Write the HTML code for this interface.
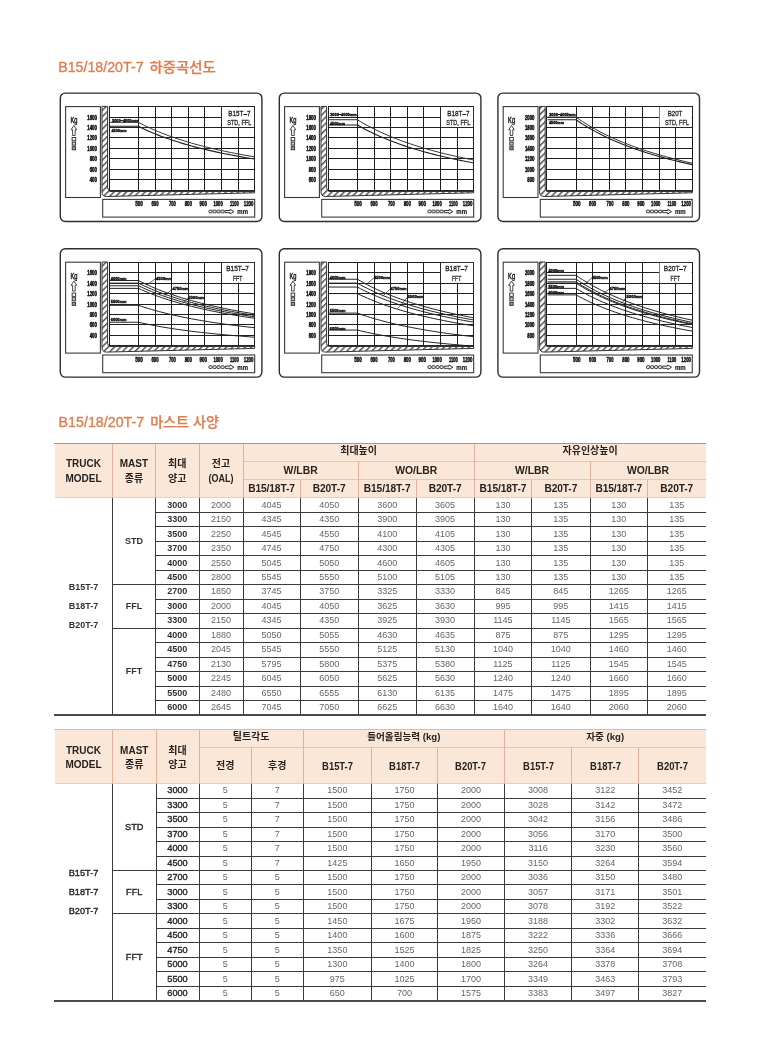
<!DOCTYPE html><html lang="ko"><head><meta charset="utf-8"><title>B15/18/20T-7</title><style>
*{margin:0;padding:0;box-sizing:border-box}
html,body{width:760px;height:1049px;background:#fff;overflow:hidden}
body{position:relative;font-family:"Liberation Sans","Noto Sans CJK KR",sans-serif}
.r{position:absolute}
.c{position:absolute;display:flex;align-items:center;justify-content:center;text-align:center;white-space:nowrap}
.h2{font-weight:bold;font-size:10px;line-height:14.8px;color:#262220}
.h1{font-weight:bold;font-size:10.4px;line-height:12px;color:#262220}
.hs{font-size:10.2px;letter-spacing:-0.1px}
.h1b{font-size:10.7px}
.sq{display:inline-block;transform:scaleX(0.88)}
.sq2{display:inline-block;transform:scaleX(0.9)}
.hk{font-weight:bold;font-size:10px;line-height:12px;color:#262220}
.hkb{font-size:9.6px}
.bb{font-weight:bold;font-size:9px;line-height:11px;color:#333}
.bn{font-size:9px;line-height:11px;color:#666}
.bm{font-weight:bold;font-size:9px;line-height:11px;color:#333}
.bb2,.bm2{font-size:9.2px;line-height:11px;color:#2a2a2a;-webkit-text-stroke:0.4px #2a2a2a}
svg{position:absolute;left:0;top:0}
svg text{font-family:"Liberation Sans","Noto Sans CJK KR",sans-serif}
</style></head><body><svg width="760" height="440" viewBox="0 0 760 440"><defs><pattern id="hatch" width="4.4" height="4.4" patternUnits="userSpaceOnUse" patternTransform="rotate(45)"><rect width="4.4" height="4.4" fill="#fff"/><rect width="1.5" height="4.4" fill="#555"/></pattern></defs><text x="58.2" y="72" font-size="15.4" fill="#dc7e50" stroke="#dc7e50" stroke-width="0.35" textLength="85.4" lengthAdjust="spacingAndGlyphs">B15/18/20T-7</text><text x="149.6" y="72" font-size="13.5" font-weight="500" fill="#dc7e50" stroke="#dc7e50" stroke-width="0.25" textLength="66.2" lengthAdjust="spacingAndGlyphs" style="font-family:'Noto Sans CJK KR',sans-serif">하중곡선도</text><text x="58.6" y="426.8" font-size="15.4" fill="#dc7e50" stroke="#dc7e50" stroke-width="0.35" textLength="85.6" lengthAdjust="spacingAndGlyphs">B15/18/20T-7</text><text x="150.2" y="426.8" font-size="13.5" font-weight="500" fill="#dc7e50" stroke="#dc7e50" stroke-width="0.25" textLength="68.8" lengthAdjust="spacingAndGlyphs" style="font-family:'Noto Sans CJK KR',sans-serif">마스트 사양</text><rect x="60.3" y="93.1" width="201.6" height="128.4" rx="5" ry="5" fill="#fff" stroke="#2e2e2e" stroke-width="1.4"/><rect x="65.6" y="106.6" width="34.8" height="90.9" fill="#fff" stroke="#3a3a3a" stroke-width="1.1"/><path d="M102,106.4 L102,191.9 Q102,196.5 106.6,196.5 L254.67,192.8 L254.67,190.1 L109.8,190.1 Q107.6,190.1 107.6,187.9 L107.6,106.4 Z" fill="url(#hatch)" stroke="#333" stroke-width="1"/><rect x="109.2" y="106.7" width="145.47" height="83.4" fill="#fff"/><line x1="138.5" y1="106.5" x2="138.5" y2="190.5" stroke="#1e1e1e" stroke-width="1"/><line x1="155.5" y1="106.5" x2="155.5" y2="190.5" stroke="#1e1e1e" stroke-width="1"/><line x1="171.5" y1="106.5" x2="171.5" y2="190.5" stroke="#1e1e1e" stroke-width="1"/><line x1="188.5" y1="106.5" x2="188.5" y2="190.5" stroke="#1e1e1e" stroke-width="1"/><line x1="204.5" y1="106.5" x2="204.5" y2="190.5" stroke="#1e1e1e" stroke-width="1"/><line x1="221.5" y1="106.5" x2="221.5" y2="190.5" stroke="#1e1e1e" stroke-width="1"/><line x1="238.5" y1="106.5" x2="238.5" y2="190.5" stroke="#1e1e1e" stroke-width="1"/><line x1="109.5" y1="117.5" x2="254.5" y2="117.5" stroke="#1e1e1e" stroke-width="1"/><line x1="109.5" y1="127.5" x2="254.5" y2="127.5" stroke="#1e1e1e" stroke-width="1"/><line x1="109.5" y1="137.5" x2="254.5" y2="137.5" stroke="#1e1e1e" stroke-width="1"/><line x1="109.5" y1="148.5" x2="254.5" y2="148.5" stroke="#1e1e1e" stroke-width="1"/><line x1="109.5" y1="158.5" x2="254.5" y2="158.5" stroke="#1e1e1e" stroke-width="1"/><line x1="109.5" y1="169.5" x2="254.5" y2="169.5" stroke="#1e1e1e" stroke-width="1"/><line x1="109.5" y1="179.5" x2="254.5" y2="179.5" stroke="#1e1e1e" stroke-width="1"/><rect x="109.5" y="106.5" width="145" height="84" fill="none" stroke="#1e1e1e" stroke-width="1"/><line x1="109.5" y1="191.3" x2="254.5" y2="191.3" stroke="#333" stroke-width="1.6"/><polyline points="110,122.34 138.4,122.34 141.72,124.07 145.04,125.72 148.37,127.3 151.69,128.82 155.01,130.28 158.33,131.67 161.65,133.02 164.98,134.31 168.3,135.55 171.62,136.75 174.94,137.9 178.26,139.02 181.59,140.09 184.91,141.13 188.23,142.13 191.55,143.1 194.87,144.04 198.2,144.95 201.52,145.82 204.84,146.68 208.16,147.5 211.48,148.3 214.81,149.08 218.13,149.83 221.45,150.56 224.77,151.28 228.09,151.97 231.42,152.64 234.74,153.29 238.06,153.93 241.38,154.55 244.7,155.15 248.03,155.74 251.35,156.31 254.67,156.87" fill="none" stroke="#333" stroke-width="1" stroke-linejoin="round"/><polyline points="110,126.25 138.4,126.25 141.72,127.89 145.04,129.46 148.37,130.96 151.69,132.4 155.01,133.79 158.33,135.12 161.65,136.39 164.98,137.62 168.3,138.8 171.62,139.94 174.94,141.04 178.26,142.09 181.59,143.11 184.91,144.1 188.23,145.05 191.55,145.97 194.87,146.86 198.2,147.72 201.52,148.56 204.84,149.37 208.16,150.15 211.48,150.91 214.81,151.65 218.13,152.37 221.45,153.06 224.77,153.74 228.09,154.39 231.42,155.03 234.74,155.65 238.06,156.26 241.38,156.85 244.7,157.42 248.03,157.98 251.35,158.52 254.67,159.05" fill="none" stroke="#222" stroke-width="1.1" stroke-linejoin="round"/><text x="112" y="121.5" font-size="4.3" font-weight="bold" text-anchor="start" fill="#111" textLength="26.4" lengthAdjust="spacingAndGlyphs" stroke="#111" stroke-width="0.4">3000~4000mm</text><text x="111.5" y="132.3" font-size="4.3" font-weight="bold" text-anchor="start" fill="#111" textLength="15" lengthAdjust="spacingAndGlyphs" stroke="#111" stroke-width="0.4">4500mm</text><rect x="221.95" y="107.3" width="32.12" height="19.75" fill="#fff"/><text x="239.4" y="115.7" font-size="8" font-weight="normal" text-anchor="middle" fill="#1a1a1a" textLength="22.2" lengthAdjust="spacingAndGlyphs" stroke="#1a1a1a" stroke-width="0.3">B15T–7</text><text x="239.3" y="125" font-size="8" font-weight="normal" text-anchor="middle" fill="#1a1a1a" textLength="24" lengthAdjust="spacingAndGlyphs" stroke="#1a1a1a" stroke-width="0.3">STD, FFL</text><text x="96.9" y="119.62" font-size="7.3" font-weight="bold" text-anchor="end" fill="#111" textLength="9.6" lengthAdjust="spacingAndGlyphs" stroke="#111" stroke-width="0.55">1600</text><text x="96.9" y="130.05" font-size="7.3" font-weight="bold" text-anchor="end" fill="#111" textLength="9.6" lengthAdjust="spacingAndGlyphs" stroke="#111" stroke-width="0.55">1400</text><text x="96.9" y="140.47" font-size="7.3" font-weight="bold" text-anchor="end" fill="#111" textLength="9.6" lengthAdjust="spacingAndGlyphs" stroke="#111" stroke-width="0.55">1200</text><text x="96.9" y="150.9" font-size="7.3" font-weight="bold" text-anchor="end" fill="#111" textLength="9.6" lengthAdjust="spacingAndGlyphs" stroke="#111" stroke-width="0.55">1000</text><text x="96.9" y="161.32" font-size="7.3" font-weight="bold" text-anchor="end" fill="#111" textLength="7.2" lengthAdjust="spacingAndGlyphs" stroke="#111" stroke-width="0.55">800</text><text x="96.9" y="171.75" font-size="7.3" font-weight="bold" text-anchor="end" fill="#111" textLength="7.2" lengthAdjust="spacingAndGlyphs" stroke="#111" stroke-width="0.55">600</text><text x="96.9" y="182.18" font-size="7.3" font-weight="bold" text-anchor="end" fill="#111" textLength="7.2" lengthAdjust="spacingAndGlyphs" stroke="#111" stroke-width="0.55">400</text><text x="74" y="123.4" font-size="8.4" font-weight="normal" text-anchor="middle" fill="#222" textLength="7" lengthAdjust="spacingAndGlyphs" stroke="#222" stroke-width="0.5">Kg</text><path d="M73.9,125.5 L76.7,129.7 L75.2,129.7 L75.2,135.5 L72.6,135.5 L72.6,129.7 L71.1,129.7 Z" fill="#fff" stroke="#333" stroke-width="0.9"/><rect x="72.1" y="137.5" width="3.6" height="3.24" fill="#fff" stroke="#333" stroke-width="0.95"/><rect x="72.2" y="142.1" width="3.4" height="3.06" fill="#ccc" stroke="#333" stroke-width="0.95"/><rect x="72.2" y="146.7" width="3.4" height="3.06" fill="#999" stroke="#333" stroke-width="0.95"/><rect x="102.7" y="199.4" width="151.97" height="17.7" fill="#fff" stroke="#3a3a3a" stroke-width="1.1"/><text x="139.1" y="206.3" font-size="6.9" font-weight="bold" text-anchor="middle" fill="#111" textLength="7.6" lengthAdjust="spacingAndGlyphs" stroke="#111" stroke-width="0.5">500</text><text x="155" y="206.3" font-size="6.9" font-weight="bold" text-anchor="middle" fill="#111" textLength="7.1" lengthAdjust="spacingAndGlyphs" stroke="#111" stroke-width="0.5">600</text><text x="172.4" y="206.3" font-size="6.9" font-weight="bold" text-anchor="middle" fill="#111" textLength="6.8" lengthAdjust="spacingAndGlyphs" stroke="#111" stroke-width="0.5">700</text><text x="188.3" y="206.3" font-size="6.9" font-weight="bold" text-anchor="middle" fill="#111" textLength="7.2" lengthAdjust="spacingAndGlyphs" stroke="#111" stroke-width="0.5">800</text><text x="203.3" y="206.3" font-size="6.9" font-weight="bold" text-anchor="middle" fill="#111" textLength="7.4" lengthAdjust="spacingAndGlyphs" stroke="#111" stroke-width="0.5">900</text><text x="218.1" y="206.3" font-size="6.9" font-weight="bold" text-anchor="middle" fill="#111" textLength="9.2" lengthAdjust="spacingAndGlyphs" stroke="#111" stroke-width="0.5">1000</text><text x="234.3" y="206.3" font-size="6.9" font-weight="bold" text-anchor="middle" fill="#111" textLength="8.7" lengthAdjust="spacingAndGlyphs" stroke="#111" stroke-width="0.5">1100</text><text x="248.6" y="206.3" font-size="6.9" font-weight="bold" text-anchor="middle" fill="#111" textLength="9.7" lengthAdjust="spacingAndGlyphs" stroke="#111" stroke-width="0.5">1200</text><rect x="209" y="210.2" width="3.1" height="2.6" rx="0.5" fill="#fff" stroke="#333" stroke-width="1.0"/><rect x="213" y="210.2" width="3.1" height="2.6" rx="0.5" fill="#fff" stroke="#333" stroke-width="1.0"/><rect x="217" y="210.2" width="3.1" height="2.6" rx="0.5" fill="#fff" stroke="#333" stroke-width="1.0"/><rect x="221" y="210.2" width="3.1" height="2.6" rx="0.5" fill="#fff" stroke="#333" stroke-width="1.0"/><path d="M225.1,210.5 L230.1,210.5 L230.1,209.3 L233.9,211.6 L230.1,213.9 L230.1,212.7 L225.1,212.7 Z" fill="#fff" stroke="#333" stroke-width="1.0"/><text x="237.3" y="213.9" font-size="7" font-weight="bold" text-anchor="start" fill="#222" textLength="10.7" lengthAdjust="spacingAndGlyphs" stroke="#222" stroke-width="0.2">mm</text><rect x="279.3" y="93.1" width="201.6" height="128.4" rx="5" ry="5" fill="#fff" stroke="#2e2e2e" stroke-width="1.4"/><rect x="284.6" y="106.6" width="34.8" height="90.9" fill="#fff" stroke="#3a3a3a" stroke-width="1.1"/><path d="M321,106.4 L321,191.9 Q321,196.5 325.6,196.5 L473.67,192.8 L473.67,190.1 L328.8,190.1 Q326.6,190.1 326.6,187.9 L326.6,106.4 Z" fill="url(#hatch)" stroke="#333" stroke-width="1"/><rect x="328.2" y="106.7" width="145.47" height="83.4" fill="#fff"/><line x1="357.5" y1="106.5" x2="357.5" y2="190.5" stroke="#1e1e1e" stroke-width="1"/><line x1="374.5" y1="106.5" x2="374.5" y2="190.5" stroke="#1e1e1e" stroke-width="1"/><line x1="390.5" y1="106.5" x2="390.5" y2="190.5" stroke="#1e1e1e" stroke-width="1"/><line x1="407.5" y1="106.5" x2="407.5" y2="190.5" stroke="#1e1e1e" stroke-width="1"/><line x1="423.5" y1="106.5" x2="423.5" y2="190.5" stroke="#1e1e1e" stroke-width="1"/><line x1="440.5" y1="106.5" x2="440.5" y2="190.5" stroke="#1e1e1e" stroke-width="1"/><line x1="457.5" y1="106.5" x2="457.5" y2="190.5" stroke="#1e1e1e" stroke-width="1"/><line x1="328.5" y1="117.5" x2="473.5" y2="117.5" stroke="#1e1e1e" stroke-width="1"/><line x1="328.5" y1="127.5" x2="473.5" y2="127.5" stroke="#1e1e1e" stroke-width="1"/><line x1="328.5" y1="137.5" x2="473.5" y2="137.5" stroke="#1e1e1e" stroke-width="1"/><line x1="328.5" y1="148.5" x2="473.5" y2="148.5" stroke="#1e1e1e" stroke-width="1"/><line x1="328.5" y1="158.5" x2="473.5" y2="158.5" stroke="#1e1e1e" stroke-width="1"/><line x1="328.5" y1="169.5" x2="473.5" y2="169.5" stroke="#1e1e1e" stroke-width="1"/><line x1="328.5" y1="179.5" x2="473.5" y2="179.5" stroke="#1e1e1e" stroke-width="1"/><rect x="328.5" y="106.5" width="145" height="84" fill="none" stroke="#1e1e1e" stroke-width="1"/><line x1="328.5" y1="191.3" x2="473.5" y2="191.3" stroke="#333" stroke-width="1.6"/><polyline points="329,119.73 357.4,119.73 360.72,121.75 364.04,123.68 367.37,125.52 370.69,127.29 374.01,128.99 377.33,130.62 380.65,132.19 383.98,133.7 387.3,135.15 390.62,136.55 393.94,137.89 397.26,139.19 400.59,140.44 403.91,141.66 407.23,142.82 410.55,143.96 413.87,145.05 417.2,146.11 420.52,147.13 423.84,148.13 427.16,149.09 430.48,150.02 433.81,150.93 437.13,151.81 440.45,152.66 443.77,153.49 447.09,154.3 450.42,155.08 453.74,155.85 457.06,156.59 460.38,157.31 463.7,158.01 467.03,158.7 470.35,159.37 473.67,160.02" fill="none" stroke="#333" stroke-width="1" stroke-linejoin="round"/><polyline points="329,124.94 357.4,124.94 360.72,126.84 364.04,128.66 367.37,130.4 370.69,132.07 374.01,133.68 377.33,135.21 380.65,136.69 383.98,138.11 387.3,139.48 390.62,140.8 393.94,142.07 397.26,143.29 400.59,144.47 403.91,145.61 407.23,146.72 410.55,147.78 413.87,148.81 417.2,149.81 420.52,150.78 423.84,151.72 427.16,152.62 430.48,153.5 433.81,154.36 437.13,155.19 440.45,155.99 443.77,156.78 447.09,157.54 450.42,158.27 453.74,158.99 457.06,159.69 460.38,160.37 463.7,161.04 467.03,161.68 470.35,162.31 473.67,162.93" fill="none" stroke="#222" stroke-width="1.1" stroke-linejoin="round"/><text x="330.2" y="116" font-size="4.3" font-weight="bold" text-anchor="start" fill="#111" textLength="26.4" lengthAdjust="spacingAndGlyphs" stroke="#111" stroke-width="0.4">3000~4000mm</text><text x="330" y="124.7" font-size="4.3" font-weight="bold" text-anchor="start" fill="#111" textLength="15" lengthAdjust="spacingAndGlyphs" stroke="#111" stroke-width="0.4">4500mm</text><rect x="440.95" y="107.3" width="32.12" height="19.75" fill="#fff"/><text x="458.4" y="115.7" font-size="8" font-weight="normal" text-anchor="middle" fill="#1a1a1a" textLength="22.2" lengthAdjust="spacingAndGlyphs" stroke="#1a1a1a" stroke-width="0.3">B18T–7</text><text x="458.3" y="125" font-size="8" font-weight="normal" text-anchor="middle" fill="#1a1a1a" textLength="24" lengthAdjust="spacingAndGlyphs" stroke="#1a1a1a" stroke-width="0.3">STD, FFL</text><text x="315.9" y="119.62" font-size="7.3" font-weight="bold" text-anchor="end" fill="#111" textLength="9.6" lengthAdjust="spacingAndGlyphs" stroke="#111" stroke-width="0.55">1800</text><text x="315.9" y="130.05" font-size="7.3" font-weight="bold" text-anchor="end" fill="#111" textLength="9.6" lengthAdjust="spacingAndGlyphs" stroke="#111" stroke-width="0.55">1600</text><text x="315.9" y="140.47" font-size="7.3" font-weight="bold" text-anchor="end" fill="#111" textLength="9.6" lengthAdjust="spacingAndGlyphs" stroke="#111" stroke-width="0.55">1400</text><text x="315.9" y="150.9" font-size="7.3" font-weight="bold" text-anchor="end" fill="#111" textLength="9.6" lengthAdjust="spacingAndGlyphs" stroke="#111" stroke-width="0.55">1200</text><text x="315.9" y="161.32" font-size="7.3" font-weight="bold" text-anchor="end" fill="#111" textLength="9.6" lengthAdjust="spacingAndGlyphs" stroke="#111" stroke-width="0.55">1000</text><text x="315.9" y="171.75" font-size="7.3" font-weight="bold" text-anchor="end" fill="#111" textLength="7.2" lengthAdjust="spacingAndGlyphs" stroke="#111" stroke-width="0.55">800</text><text x="315.9" y="182.18" font-size="7.3" font-weight="bold" text-anchor="end" fill="#111" textLength="7.2" lengthAdjust="spacingAndGlyphs" stroke="#111" stroke-width="0.55">600</text><text x="293" y="123.4" font-size="8.4" font-weight="normal" text-anchor="middle" fill="#222" textLength="7" lengthAdjust="spacingAndGlyphs" stroke="#222" stroke-width="0.5">Kg</text><path d="M292.9,125.5 L295.7,129.7 L294.2,129.7 L294.2,135.5 L291.6,135.5 L291.6,129.7 L290.1,129.7 Z" fill="#fff" stroke="#333" stroke-width="0.9"/><rect x="291.1" y="137.5" width="3.6" height="3.24" fill="#fff" stroke="#333" stroke-width="0.95"/><rect x="291.2" y="142.1" width="3.4" height="3.06" fill="#ccc" stroke="#333" stroke-width="0.95"/><rect x="291.2" y="146.7" width="3.4" height="3.06" fill="#999" stroke="#333" stroke-width="0.95"/><rect x="321.7" y="199.4" width="151.97" height="17.7" fill="#fff" stroke="#3a3a3a" stroke-width="1.1"/><text x="358.1" y="206.3" font-size="6.9" font-weight="bold" text-anchor="middle" fill="#111" textLength="7.6" lengthAdjust="spacingAndGlyphs" stroke="#111" stroke-width="0.5">500</text><text x="374" y="206.3" font-size="6.9" font-weight="bold" text-anchor="middle" fill="#111" textLength="7.1" lengthAdjust="spacingAndGlyphs" stroke="#111" stroke-width="0.5">600</text><text x="391.4" y="206.3" font-size="6.9" font-weight="bold" text-anchor="middle" fill="#111" textLength="6.8" lengthAdjust="spacingAndGlyphs" stroke="#111" stroke-width="0.5">700</text><text x="407.3" y="206.3" font-size="6.9" font-weight="bold" text-anchor="middle" fill="#111" textLength="7.2" lengthAdjust="spacingAndGlyphs" stroke="#111" stroke-width="0.5">800</text><text x="422.3" y="206.3" font-size="6.9" font-weight="bold" text-anchor="middle" fill="#111" textLength="7.4" lengthAdjust="spacingAndGlyphs" stroke="#111" stroke-width="0.5">900</text><text x="437.1" y="206.3" font-size="6.9" font-weight="bold" text-anchor="middle" fill="#111" textLength="9.2" lengthAdjust="spacingAndGlyphs" stroke="#111" stroke-width="0.5">1000</text><text x="453.3" y="206.3" font-size="6.9" font-weight="bold" text-anchor="middle" fill="#111" textLength="8.7" lengthAdjust="spacingAndGlyphs" stroke="#111" stroke-width="0.5">1100</text><text x="467.6" y="206.3" font-size="6.9" font-weight="bold" text-anchor="middle" fill="#111" textLength="9.7" lengthAdjust="spacingAndGlyphs" stroke="#111" stroke-width="0.5">1200</text><rect x="428" y="210.2" width="3.1" height="2.6" rx="0.5" fill="#fff" stroke="#333" stroke-width="1.0"/><rect x="432" y="210.2" width="3.1" height="2.6" rx="0.5" fill="#fff" stroke="#333" stroke-width="1.0"/><rect x="436" y="210.2" width="3.1" height="2.6" rx="0.5" fill="#fff" stroke="#333" stroke-width="1.0"/><rect x="440" y="210.2" width="3.1" height="2.6" rx="0.5" fill="#fff" stroke="#333" stroke-width="1.0"/><path d="M444.1,210.5 L449.1,210.5 L449.1,209.3 L452.9,211.6 L449.1,213.9 L449.1,212.7 L444.1,212.7 Z" fill="#fff" stroke="#333" stroke-width="1.0"/><text x="456.3" y="213.9" font-size="7" font-weight="bold" text-anchor="start" fill="#222" textLength="10.7" lengthAdjust="spacingAndGlyphs" stroke="#222" stroke-width="0.2">mm</text><rect x="497.9" y="93.1" width="201.6" height="128.4" rx="5" ry="5" fill="#fff" stroke="#2e2e2e" stroke-width="1.4"/><rect x="503.2" y="106.6" width="34.8" height="90.9" fill="#fff" stroke="#3a3a3a" stroke-width="1.1"/><path d="M539.6,106.4 L539.6,191.9 Q539.6,196.5 544.2,196.5 L692.27,192.8 L692.27,190.1 L547.4,190.1 Q545.2,190.1 545.2,187.9 L545.2,106.4 Z" fill="url(#hatch)" stroke="#333" stroke-width="1"/><rect x="546.8" y="106.7" width="145.47" height="83.4" fill="#fff"/><line x1="576.5" y1="106.5" x2="576.5" y2="190.5" stroke="#1e1e1e" stroke-width="1"/><line x1="592.5" y1="106.5" x2="592.5" y2="190.5" stroke="#1e1e1e" stroke-width="1"/><line x1="609.5" y1="106.5" x2="609.5" y2="190.5" stroke="#1e1e1e" stroke-width="1"/><line x1="625.5" y1="106.5" x2="625.5" y2="190.5" stroke="#1e1e1e" stroke-width="1"/><line x1="642.5" y1="106.5" x2="642.5" y2="190.5" stroke="#1e1e1e" stroke-width="1"/><line x1="659.5" y1="106.5" x2="659.5" y2="190.5" stroke="#1e1e1e" stroke-width="1"/><line x1="675.5" y1="106.5" x2="675.5" y2="190.5" stroke="#1e1e1e" stroke-width="1"/><line x1="546.5" y1="117.5" x2="692.5" y2="117.5" stroke="#1e1e1e" stroke-width="1"/><line x1="546.5" y1="127.5" x2="692.5" y2="127.5" stroke="#1e1e1e" stroke-width="1"/><line x1="546.5" y1="137.5" x2="692.5" y2="137.5" stroke="#1e1e1e" stroke-width="1"/><line x1="546.5" y1="148.5" x2="692.5" y2="148.5" stroke="#1e1e1e" stroke-width="1"/><line x1="546.5" y1="158.5" x2="692.5" y2="158.5" stroke="#1e1e1e" stroke-width="1"/><line x1="546.5" y1="169.5" x2="692.5" y2="169.5" stroke="#1e1e1e" stroke-width="1"/><line x1="546.5" y1="179.5" x2="692.5" y2="179.5" stroke="#1e1e1e" stroke-width="1"/><rect x="546.5" y="106.5" width="146" height="84" fill="none" stroke="#1e1e1e" stroke-width="1"/><line x1="546.5" y1="191.3" x2="692.5" y2="191.3" stroke="#333" stroke-width="1.6"/><polyline points="547.6,117.12 576,117.12 579.32,119.43 582.64,121.63 585.97,123.74 589.29,125.77 592.61,127.71 595.93,129.57 599.25,131.36 602.58,133.09 605.9,134.74 609.22,136.34 612.54,137.88 615.86,139.37 619.19,140.8 622.51,142.18 625.83,143.52 629.15,144.81 632.47,146.06 635.8,147.27 639.12,148.44 642.44,149.58 645.76,150.68 649.08,151.74 652.41,152.78 655.73,153.78 659.05,154.76 662.37,155.71 665.69,156.63 669.02,157.53 672.34,158.4 675.66,159.25 678.98,160.07 682.3,160.88 685.63,161.66 688.95,162.42 692.27,163.17" fill="none" stroke="#333" stroke-width="1" stroke-linejoin="round"/><polyline points="547.6,119.73 576,119.73 579.32,121.98 582.64,124.13 585.97,126.18 589.29,128.16 592.61,130.05 595.93,131.87 599.25,133.61 602.58,135.29 605.9,136.91 609.22,138.47 612.54,139.97 615.86,141.42 619.19,142.81 622.51,144.16 625.83,145.46 629.15,146.72 632.47,147.94 635.8,149.12 639.12,150.26 642.44,151.37 645.76,152.44 649.08,153.48 652.41,154.49 655.73,155.47 659.05,156.43 662.37,157.35 665.69,158.25 669.02,159.12 672.34,159.97 675.66,160.8 678.98,161.6 682.3,162.39 685.63,163.15 688.95,163.9 692.27,164.62" fill="none" stroke="#222" stroke-width="1.1" stroke-linejoin="round"/><text x="549.2" y="115.5" font-size="4.3" font-weight="bold" text-anchor="start" fill="#111" textLength="26.4" lengthAdjust="spacingAndGlyphs" stroke="#111" stroke-width="0.4">3000~4000mm</text><text x="549" y="124.4" font-size="4.3" font-weight="bold" text-anchor="start" fill="#111" textLength="15" lengthAdjust="spacingAndGlyphs" stroke="#111" stroke-width="0.4">4500mm</text><rect x="659.55" y="107.3" width="32.12" height="19.75" fill="#fff"/><text x="675" y="115.7" font-size="8" font-weight="normal" text-anchor="middle" fill="#1a1a1a" textLength="14.5" lengthAdjust="spacingAndGlyphs" stroke="#1a1a1a" stroke-width="0.3">B20T</text><text x="676.9" y="125" font-size="8" font-weight="normal" text-anchor="middle" fill="#1a1a1a" textLength="24" lengthAdjust="spacingAndGlyphs" stroke="#1a1a1a" stroke-width="0.3">STD, FFL</text><text x="534.5" y="119.62" font-size="7.3" font-weight="bold" text-anchor="end" fill="#111" textLength="9.6" lengthAdjust="spacingAndGlyphs" stroke="#111" stroke-width="0.55">2000</text><text x="534.5" y="130.05" font-size="7.3" font-weight="bold" text-anchor="end" fill="#111" textLength="9.6" lengthAdjust="spacingAndGlyphs" stroke="#111" stroke-width="0.55">1800</text><text x="534.5" y="140.47" font-size="7.3" font-weight="bold" text-anchor="end" fill="#111" textLength="9.6" lengthAdjust="spacingAndGlyphs" stroke="#111" stroke-width="0.55">1600</text><text x="534.5" y="150.9" font-size="7.3" font-weight="bold" text-anchor="end" fill="#111" textLength="9.6" lengthAdjust="spacingAndGlyphs" stroke="#111" stroke-width="0.55">1400</text><text x="534.5" y="161.32" font-size="7.3" font-weight="bold" text-anchor="end" fill="#111" textLength="9.6" lengthAdjust="spacingAndGlyphs" stroke="#111" stroke-width="0.55">1200</text><text x="534.5" y="171.75" font-size="7.3" font-weight="bold" text-anchor="end" fill="#111" textLength="9.6" lengthAdjust="spacingAndGlyphs" stroke="#111" stroke-width="0.55">1000</text><text x="534.5" y="182.18" font-size="7.3" font-weight="bold" text-anchor="end" fill="#111" textLength="7.2" lengthAdjust="spacingAndGlyphs" stroke="#111" stroke-width="0.55">800</text><text x="511.6" y="123.4" font-size="8.4" font-weight="normal" text-anchor="middle" fill="#222" textLength="7" lengthAdjust="spacingAndGlyphs" stroke="#222" stroke-width="0.5">Kg</text><path d="M511.5,125.5 L514.3,129.7 L512.8,129.7 L512.8,135.5 L510.2,135.5 L510.2,129.7 L508.7,129.7 Z" fill="#fff" stroke="#333" stroke-width="0.9"/><rect x="509.7" y="137.5" width="3.6" height="3.24" fill="#fff" stroke="#333" stroke-width="0.95"/><rect x="509.8" y="142.1" width="3.4" height="3.06" fill="#ccc" stroke="#333" stroke-width="0.95"/><rect x="509.8" y="146.7" width="3.4" height="3.06" fill="#999" stroke="#333" stroke-width="0.95"/><rect x="540.3" y="199.4" width="151.97" height="17.7" fill="#fff" stroke="#3a3a3a" stroke-width="1.1"/><text x="576.7" y="206.3" font-size="6.9" font-weight="bold" text-anchor="middle" fill="#111" textLength="7.6" lengthAdjust="spacingAndGlyphs" stroke="#111" stroke-width="0.5">500</text><text x="592.6" y="206.3" font-size="6.9" font-weight="bold" text-anchor="middle" fill="#111" textLength="7.1" lengthAdjust="spacingAndGlyphs" stroke="#111" stroke-width="0.5">600</text><text x="610" y="206.3" font-size="6.9" font-weight="bold" text-anchor="middle" fill="#111" textLength="6.8" lengthAdjust="spacingAndGlyphs" stroke="#111" stroke-width="0.5">700</text><text x="625.9" y="206.3" font-size="6.9" font-weight="bold" text-anchor="middle" fill="#111" textLength="7.2" lengthAdjust="spacingAndGlyphs" stroke="#111" stroke-width="0.5">800</text><text x="640.9" y="206.3" font-size="6.9" font-weight="bold" text-anchor="middle" fill="#111" textLength="7.4" lengthAdjust="spacingAndGlyphs" stroke="#111" stroke-width="0.5">900</text><text x="655.7" y="206.3" font-size="6.9" font-weight="bold" text-anchor="middle" fill="#111" textLength="9.2" lengthAdjust="spacingAndGlyphs" stroke="#111" stroke-width="0.5">1000</text><text x="671.9" y="206.3" font-size="6.9" font-weight="bold" text-anchor="middle" fill="#111" textLength="8.7" lengthAdjust="spacingAndGlyphs" stroke="#111" stroke-width="0.5">1100</text><text x="686.2" y="206.3" font-size="6.9" font-weight="bold" text-anchor="middle" fill="#111" textLength="9.7" lengthAdjust="spacingAndGlyphs" stroke="#111" stroke-width="0.5">1200</text><rect x="646.6" y="210.2" width="3.1" height="2.6" rx="0.5" fill="#fff" stroke="#333" stroke-width="1.0"/><rect x="650.6" y="210.2" width="3.1" height="2.6" rx="0.5" fill="#fff" stroke="#333" stroke-width="1.0"/><rect x="654.6" y="210.2" width="3.1" height="2.6" rx="0.5" fill="#fff" stroke="#333" stroke-width="1.0"/><rect x="658.6" y="210.2" width="3.1" height="2.6" rx="0.5" fill="#fff" stroke="#333" stroke-width="1.0"/><path d="M662.7,210.5 L667.7,210.5 L667.7,209.3 L671.5,211.6 L667.7,213.9 L667.7,212.7 L662.7,212.7 Z" fill="#fff" stroke="#333" stroke-width="1.0"/><text x="674.9" y="213.9" font-size="7" font-weight="bold" text-anchor="start" fill="#222" textLength="10.7" lengthAdjust="spacingAndGlyphs" stroke="#222" stroke-width="0.2">mm</text><rect x="60.3" y="248.7" width="201.6" height="128.4" rx="5" ry="5" fill="#fff" stroke="#2e2e2e" stroke-width="1.4"/><rect x="65.6" y="262.2" width="34.8" height="90.9" fill="#fff" stroke="#3a3a3a" stroke-width="1.1"/><path d="M102,262 L102,347.5 Q102,352.1 106.6,352.1 L254.67,348.4 L254.67,345.7 L109.8,345.7 Q107.6,345.7 107.6,343.5 L107.6,262 Z" fill="url(#hatch)" stroke="#333" stroke-width="1"/><rect x="109.2" y="262.3" width="145.47" height="83.4" fill="#fff"/><line x1="138.5" y1="262.5" x2="138.5" y2="345.5" stroke="#1e1e1e" stroke-width="1"/><line x1="155.5" y1="262.5" x2="155.5" y2="345.5" stroke="#1e1e1e" stroke-width="1"/><line x1="171.5" y1="262.5" x2="171.5" y2="345.5" stroke="#1e1e1e" stroke-width="1"/><line x1="188.5" y1="262.5" x2="188.5" y2="345.5" stroke="#1e1e1e" stroke-width="1"/><line x1="204.5" y1="262.5" x2="204.5" y2="345.5" stroke="#1e1e1e" stroke-width="1"/><line x1="221.5" y1="262.5" x2="221.5" y2="345.5" stroke="#1e1e1e" stroke-width="1"/><line x1="238.5" y1="262.5" x2="238.5" y2="345.5" stroke="#1e1e1e" stroke-width="1"/><line x1="109.5" y1="272.5" x2="254.5" y2="272.5" stroke="#1e1e1e" stroke-width="1"/><line x1="109.5" y1="283.5" x2="254.5" y2="283.5" stroke="#1e1e1e" stroke-width="1"/><line x1="109.5" y1="293.5" x2="254.5" y2="293.5" stroke="#1e1e1e" stroke-width="1"/><line x1="109.5" y1="304.5" x2="254.5" y2="304.5" stroke="#1e1e1e" stroke-width="1"/><line x1="109.5" y1="314.5" x2="254.5" y2="314.5" stroke="#1e1e1e" stroke-width="1"/><line x1="109.5" y1="324.5" x2="254.5" y2="324.5" stroke="#1e1e1e" stroke-width="1"/><line x1="109.5" y1="335.5" x2="254.5" y2="335.5" stroke="#1e1e1e" stroke-width="1"/><rect x="109.5" y="262.5" width="145" height="83" fill="none" stroke="#1e1e1e" stroke-width="1"/><line x1="109.5" y1="346.3" x2="254.5" y2="346.3" stroke="#333" stroke-width="1.6"/><polyline points="110,280.54 138.4,280.54 141.72,282.21 145.04,283.81 148.37,285.34 151.69,286.81 155.01,288.22 158.33,289.57 161.65,290.87 164.98,292.12 168.3,293.32 171.62,294.48 174.94,295.59 178.26,296.67 181.59,297.71 184.91,298.71 188.23,299.68 191.55,300.62 194.87,301.52 198.2,302.4 201.52,303.25 204.84,304.07 208.16,304.87 211.48,305.64 214.81,306.39 218.13,307.12 221.45,307.83 224.77,308.52 228.09,309.19 231.42,309.83 234.74,310.47 238.06,311.08 241.38,311.68 244.7,312.26 248.03,312.83 251.35,313.38 254.67,313.92" fill="none" stroke="#222" stroke-width="1" stroke-linejoin="round"/><polyline points="110,283.15 138.4,283.15 141.72,284.76 145.04,286.31 148.37,287.78 151.69,289.2 155.01,290.56 158.33,291.86 161.65,293.12 164.98,294.32 168.3,295.48 171.62,296.6 174.94,297.68 178.26,298.72 181.59,299.72 184.91,300.69 188.23,301.62 191.55,302.53 194.87,303.4 198.2,304.25 201.52,305.07 204.84,305.87 208.16,306.64 211.48,307.38 214.81,308.11 218.13,308.81 221.45,309.49 224.77,310.16 228.09,310.8 231.42,311.43 234.74,312.04 238.06,312.63 241.38,313.21 244.7,313.78 248.03,314.32 251.35,314.86 254.67,315.38" fill="none" stroke="#222" stroke-width="1" stroke-linejoin="round"/><polyline points="110,285.76 138.4,285.76 141.72,287.31 145.04,288.8 148.37,290.22 151.69,291.59 155.01,292.9 158.33,294.16 161.65,295.37 164.98,296.53 168.3,297.65 171.62,298.73 174.94,299.77 178.26,300.77 181.59,301.74 184.91,302.67 188.23,303.57 191.55,304.44 194.87,305.29 198.2,306.1 201.52,306.89 204.84,307.66 208.16,308.4 211.48,309.12 214.81,309.82 218.13,310.5 221.45,311.16 224.77,311.8 228.09,312.42 231.42,313.03 234.74,313.62 238.06,314.19 241.38,314.75 244.7,315.29 248.03,315.82 251.35,316.33 254.67,316.83" fill="none" stroke="#222" stroke-width="1" stroke-linejoin="round"/><polyline points="110,288.36 138.4,288.36 141.72,289.86 145.04,291.29 148.37,292.66 151.69,293.98 155.01,295.24 158.33,296.45 161.65,297.62 164.98,298.74 168.3,299.82 171.62,300.85 174.94,301.85 178.26,302.82 181.59,303.75 184.91,304.65 188.23,305.52 191.55,306.36 194.87,307.17 198.2,307.96 201.52,308.72 204.84,309.46 208.16,310.17 211.48,310.86 214.81,311.54 218.13,312.19 221.45,312.83 224.77,313.44 228.09,314.04 231.42,314.62 234.74,315.19 238.06,315.74 241.38,316.28 244.7,316.8 248.03,317.31 251.35,317.81 254.67,318.29" fill="none" stroke="#222" stroke-width="1" stroke-linejoin="round"/><polyline points="110,305.3 138.4,305.3 141.72,306.43 145.04,307.5 148.37,308.53 151.69,309.52 155.01,310.46 158.33,311.37 161.65,312.24 164.98,313.08 168.3,313.89 171.62,314.67 174.94,315.42 178.26,316.15 181.59,316.84 184.91,317.52 188.23,318.17 191.55,318.8 194.87,319.41 198.2,320 201.52,320.57 204.84,321.12 208.16,321.66 211.48,322.18 214.81,322.68 218.13,323.17 221.45,323.65 224.77,324.11 228.09,324.56 231.42,325 234.74,325.42 238.06,325.84 241.38,326.24 244.7,326.63 248.03,327.01 251.35,327.39 254.67,327.75" fill="none" stroke="#222" stroke-width="1" stroke-linejoin="round"/><polyline points="110,322.24 138.4,322.24 141.72,322.99 145.04,323.71 148.37,324.39 151.69,325.05 155.01,325.68 158.33,326.29 161.65,326.87 164.98,327.43 168.3,327.97 171.62,328.49 174.94,328.99 178.26,329.47 181.59,329.94 184.91,330.39 188.23,330.82 191.55,331.24 194.87,331.65 198.2,332.04 201.52,332.42 204.84,332.79 208.16,333.15 211.48,333.49 214.81,333.83 218.13,334.16 221.45,334.48 224.77,334.78 228.09,335.08 231.42,335.37 234.74,335.66 238.06,335.93 241.38,336.2 244.7,336.46 248.03,336.72 251.35,336.97 254.67,337.21" fill="none" stroke="#222" stroke-width="1" stroke-linejoin="round"/><text x="110.8" y="279.5" font-size="4.3" font-weight="bold" text-anchor="start" fill="#111" textLength="15.6" lengthAdjust="spacingAndGlyphs" stroke="#111" stroke-width="0.4">4000mm</text><text x="110.8" y="302.5" font-size="4.3" font-weight="bold" text-anchor="start" fill="#111" textLength="15.6" lengthAdjust="spacingAndGlyphs" stroke="#111" stroke-width="0.4">5500mm</text><text x="110.8" y="321.3" font-size="4.3" font-weight="bold" text-anchor="start" fill="#111" textLength="15.6" lengthAdjust="spacingAndGlyphs" stroke="#111" stroke-width="0.4">6000mm</text><text x="156" y="279.5" font-size="4.3" font-weight="bold" text-anchor="start" fill="#111" textLength="16" lengthAdjust="spacingAndGlyphs" stroke="#111" stroke-width="0.4">4500mm</text><text x="172.5" y="290.3" font-size="4.3" font-weight="bold" text-anchor="start" fill="#111" textLength="16" lengthAdjust="spacingAndGlyphs" stroke="#111" stroke-width="0.4">4750mm</text><text x="188.3" y="298.8" font-size="4.3" font-weight="bold" text-anchor="start" fill="#111" textLength="16.4" lengthAdjust="spacingAndGlyphs" stroke="#111" stroke-width="0.4">5000mm</text><line x1="156" y1="278.3" x2="146.8" y2="285.1" stroke="#222" stroke-width="0.7"/><line x1="172.5" y1="289" x2="164.6" y2="295.6" stroke="#222" stroke-width="0.7"/><line x1="188.3" y1="297.5" x2="183" y2="302.9" stroke="#222" stroke-width="0.7"/><rect x="221.95" y="262.9" width="32.12" height="19.75" fill="#fff"/><text x="237.6" y="271.3" font-size="8" font-weight="normal" text-anchor="middle" fill="#1a1a1a" textLength="22.8" lengthAdjust="spacingAndGlyphs" stroke="#1a1a1a" stroke-width="0.3">B15T–7</text><text x="237.6" y="280.6" font-size="8" font-weight="normal" text-anchor="middle" fill="#1a1a1a" textLength="9.2" lengthAdjust="spacingAndGlyphs" stroke="#1a1a1a" stroke-width="0.3">FFT</text><text x="96.9" y="275.22" font-size="7.3" font-weight="bold" text-anchor="end" fill="#111" textLength="9.6" lengthAdjust="spacingAndGlyphs" stroke="#111" stroke-width="0.55">1600</text><text x="96.9" y="285.65" font-size="7.3" font-weight="bold" text-anchor="end" fill="#111" textLength="9.6" lengthAdjust="spacingAndGlyphs" stroke="#111" stroke-width="0.55">1400</text><text x="96.9" y="296.07" font-size="7.3" font-weight="bold" text-anchor="end" fill="#111" textLength="9.6" lengthAdjust="spacingAndGlyphs" stroke="#111" stroke-width="0.55">1200</text><text x="96.9" y="306.5" font-size="7.3" font-weight="bold" text-anchor="end" fill="#111" textLength="9.6" lengthAdjust="spacingAndGlyphs" stroke="#111" stroke-width="0.55">1000</text><text x="96.9" y="316.92" font-size="7.3" font-weight="bold" text-anchor="end" fill="#111" textLength="7.2" lengthAdjust="spacingAndGlyphs" stroke="#111" stroke-width="0.55">800</text><text x="96.9" y="327.35" font-size="7.3" font-weight="bold" text-anchor="end" fill="#111" textLength="7.2" lengthAdjust="spacingAndGlyphs" stroke="#111" stroke-width="0.55">600</text><text x="96.9" y="337.77" font-size="7.3" font-weight="bold" text-anchor="end" fill="#111" textLength="7.2" lengthAdjust="spacingAndGlyphs" stroke="#111" stroke-width="0.55">400</text><text x="74" y="279" font-size="8.4" font-weight="normal" text-anchor="middle" fill="#222" textLength="7" lengthAdjust="spacingAndGlyphs" stroke="#222" stroke-width="0.5">Kg</text><path d="M73.9,281.1 L76.7,285.3 L75.2,285.3 L75.2,291.1 L72.6,291.1 L72.6,285.3 L71.1,285.3 Z" fill="#fff" stroke="#333" stroke-width="0.9"/><rect x="72.1" y="293.1" width="3.6" height="3.24" fill="#fff" stroke="#333" stroke-width="0.95"/><rect x="72.2" y="297.7" width="3.4" height="3.06" fill="#ccc" stroke="#333" stroke-width="0.95"/><rect x="72.2" y="302.3" width="3.4" height="3.06" fill="#999" stroke="#333" stroke-width="0.95"/><rect x="102.7" y="355" width="151.97" height="17.7" fill="#fff" stroke="#3a3a3a" stroke-width="1.1"/><text x="139.1" y="361.9" font-size="6.9" font-weight="bold" text-anchor="middle" fill="#111" textLength="7.6" lengthAdjust="spacingAndGlyphs" stroke="#111" stroke-width="0.5">500</text><text x="155" y="361.9" font-size="6.9" font-weight="bold" text-anchor="middle" fill="#111" textLength="7.1" lengthAdjust="spacingAndGlyphs" stroke="#111" stroke-width="0.5">600</text><text x="172.4" y="361.9" font-size="6.9" font-weight="bold" text-anchor="middle" fill="#111" textLength="6.8" lengthAdjust="spacingAndGlyphs" stroke="#111" stroke-width="0.5">700</text><text x="188.3" y="361.9" font-size="6.9" font-weight="bold" text-anchor="middle" fill="#111" textLength="7.2" lengthAdjust="spacingAndGlyphs" stroke="#111" stroke-width="0.5">800</text><text x="203.3" y="361.9" font-size="6.9" font-weight="bold" text-anchor="middle" fill="#111" textLength="7.4" lengthAdjust="spacingAndGlyphs" stroke="#111" stroke-width="0.5">900</text><text x="218.1" y="361.9" font-size="6.9" font-weight="bold" text-anchor="middle" fill="#111" textLength="9.2" lengthAdjust="spacingAndGlyphs" stroke="#111" stroke-width="0.5">1000</text><text x="234.3" y="361.9" font-size="6.9" font-weight="bold" text-anchor="middle" fill="#111" textLength="8.7" lengthAdjust="spacingAndGlyphs" stroke="#111" stroke-width="0.5">1100</text><text x="248.6" y="361.9" font-size="6.9" font-weight="bold" text-anchor="middle" fill="#111" textLength="9.7" lengthAdjust="spacingAndGlyphs" stroke="#111" stroke-width="0.5">1200</text><rect x="209" y="365.8" width="3.1" height="2.6" rx="0.5" fill="#fff" stroke="#333" stroke-width="1.0"/><rect x="213" y="365.8" width="3.1" height="2.6" rx="0.5" fill="#fff" stroke="#333" stroke-width="1.0"/><rect x="217" y="365.8" width="3.1" height="2.6" rx="0.5" fill="#fff" stroke="#333" stroke-width="1.0"/><rect x="221" y="365.8" width="3.1" height="2.6" rx="0.5" fill="#fff" stroke="#333" stroke-width="1.0"/><path d="M225.1,366.1 L230.1,366.1 L230.1,364.9 L233.9,367.2 L230.1,369.5 L230.1,368.3 L225.1,368.3 Z" fill="#fff" stroke="#333" stroke-width="1.0"/><text x="237.3" y="369.5" font-size="7" font-weight="bold" text-anchor="start" fill="#222" textLength="10.7" lengthAdjust="spacingAndGlyphs" stroke="#222" stroke-width="0.2">mm</text><rect x="279.3" y="248.7" width="201.6" height="128.4" rx="5" ry="5" fill="#fff" stroke="#2e2e2e" stroke-width="1.4"/><rect x="284.6" y="262.2" width="34.8" height="90.9" fill="#fff" stroke="#3a3a3a" stroke-width="1.1"/><path d="M321,262 L321,347.5 Q321,352.1 325.6,352.1 L473.67,348.4 L473.67,345.7 L328.8,345.7 Q326.6,345.7 326.6,343.5 L326.6,262 Z" fill="url(#hatch)" stroke="#333" stroke-width="1"/><rect x="328.2" y="262.3" width="145.47" height="83.4" fill="#fff"/><line x1="357.5" y1="262.5" x2="357.5" y2="345.5" stroke="#1e1e1e" stroke-width="1"/><line x1="374.5" y1="262.5" x2="374.5" y2="345.5" stroke="#1e1e1e" stroke-width="1"/><line x1="390.5" y1="262.5" x2="390.5" y2="345.5" stroke="#1e1e1e" stroke-width="1"/><line x1="407.5" y1="262.5" x2="407.5" y2="345.5" stroke="#1e1e1e" stroke-width="1"/><line x1="423.5" y1="262.5" x2="423.5" y2="345.5" stroke="#1e1e1e" stroke-width="1"/><line x1="440.5" y1="262.5" x2="440.5" y2="345.5" stroke="#1e1e1e" stroke-width="1"/><line x1="457.5" y1="262.5" x2="457.5" y2="345.5" stroke="#1e1e1e" stroke-width="1"/><line x1="328.5" y1="272.5" x2="473.5" y2="272.5" stroke="#1e1e1e" stroke-width="1"/><line x1="328.5" y1="283.5" x2="473.5" y2="283.5" stroke="#1e1e1e" stroke-width="1"/><line x1="328.5" y1="293.5" x2="473.5" y2="293.5" stroke="#1e1e1e" stroke-width="1"/><line x1="328.5" y1="304.5" x2="473.5" y2="304.5" stroke="#1e1e1e" stroke-width="1"/><line x1="328.5" y1="314.5" x2="473.5" y2="314.5" stroke="#1e1e1e" stroke-width="1"/><line x1="328.5" y1="324.5" x2="473.5" y2="324.5" stroke="#1e1e1e" stroke-width="1"/><line x1="328.5" y1="335.5" x2="473.5" y2="335.5" stroke="#1e1e1e" stroke-width="1"/><rect x="328.5" y="262.5" width="145" height="83" fill="none" stroke="#1e1e1e" stroke-width="1"/><line x1="328.5" y1="346.3" x2="473.5" y2="346.3" stroke="#333" stroke-width="1.6"/><polyline points="329,279.24 357.4,279.24 360.72,281.17 364.04,283.02 367.37,284.78 370.69,286.48 374.01,288.1 377.33,289.67 380.65,291.17 383.98,292.61 387.3,294 390.62,295.33 393.94,296.62 397.26,297.87 400.59,299.07 403.91,300.22 407.23,301.34 410.55,302.43 413.87,303.47 417.2,304.49 420.52,305.47 423.84,306.42 427.16,307.34 430.48,308.23 433.81,309.1 437.13,309.94 440.45,310.76 443.77,311.55 447.09,312.33 450.42,313.08 453.74,313.81 457.06,314.52 460.38,315.21 463.7,315.88 467.03,316.54 470.35,317.18 473.67,317.8" fill="none" stroke="#222" stroke-width="1" stroke-linejoin="round"/><polyline points="329,283.15 357.4,283.15 360.72,284.99 364.04,286.76 367.37,288.45 370.69,290.06 374.01,291.62 377.33,293.11 380.65,294.54 383.98,295.92 387.3,297.25 390.62,298.52 393.94,299.75 397.26,300.94 400.59,302.09 403.91,303.19 407.23,304.26 410.55,305.3 413.87,306.3 417.2,307.27 420.52,308.2 423.84,309.11 427.16,309.99 430.48,310.85 433.81,311.67 437.13,312.48 440.45,313.26 443.77,314.02 447.09,314.75 450.42,315.47 453.74,316.17 457.06,316.85 460.38,317.51 463.7,318.15 467.03,318.78 470.35,319.39 473.67,319.98" fill="none" stroke="#222" stroke-width="1" stroke-linejoin="round"/><polyline points="329,287.06 357.4,287.06 360.72,288.82 364.04,290.5 367.37,292.11 370.69,293.65 374.01,295.13 377.33,296.55 380.65,297.92 383.98,299.23 387.3,300.49 390.62,301.71 393.94,302.89 397.26,304.02 400.59,305.11 403.91,306.16 407.23,307.18 410.55,308.17 413.87,309.12 417.2,310.04 420.52,310.94 423.84,311.8 427.16,312.64 430.48,313.46 433.81,314.25 437.13,315.01 440.45,315.76 443.77,316.48 447.09,317.18 450.42,317.87 453.74,318.53 457.06,319.18 460.38,319.81 463.7,320.42 467.03,321.02 470.35,321.6 473.67,322.17" fill="none" stroke="#222" stroke-width="1" stroke-linejoin="round"/><polyline points="329,293.57 357.4,293.57 360.72,295.19 364.04,296.73 367.37,298.21 370.69,299.62 374.01,300.98 377.33,302.29 380.65,303.54 383.98,304.75 387.3,305.91 390.62,307.03 393.94,308.1 397.26,309.14 400.59,310.15 403.91,311.11 407.23,312.05 410.55,312.95 413.87,313.83 417.2,314.68 420.52,315.5 423.84,316.29 427.16,317.06 430.48,317.81 433.81,318.53 437.13,319.24 440.45,319.92 443.77,320.58 447.09,321.23 450.42,321.86 453.74,322.47 457.06,323.06 460.38,323.64 463.7,324.2 467.03,324.75 470.35,325.28 473.67,325.8" fill="none" stroke="#222" stroke-width="1" stroke-linejoin="round"/><polyline points="329,313.12 357.4,313.12 360.72,314.3 364.04,315.43 367.37,316.51 370.69,317.55 374.01,318.55 377.33,319.5 380.65,320.42 383.98,321.3 387.3,322.15 390.62,322.97 393.94,323.76 397.26,324.52 400.59,325.25 403.91,325.96 407.23,326.65 410.55,327.31 413.87,327.95 417.2,328.57 420.52,329.17 423.84,329.75 427.16,330.32 430.48,330.86 433.81,331.39 437.13,331.91 440.45,332.41 443.77,332.9 447.09,333.37 450.42,333.83 453.74,334.27 457.06,334.71 460.38,335.13 463.7,335.54 467.03,335.95 470.35,336.34 473.67,336.72" fill="none" stroke="#222" stroke-width="1" stroke-linejoin="round"/><polyline points="329,330.06 357.4,330.06 360.72,330.87 364.04,331.64 367.37,332.38 370.69,333.09 374.01,333.77 377.33,334.42 380.65,335.05 383.98,335.65 387.3,336.23 390.62,336.79 393.94,337.33 397.26,337.85 400.59,338.35 403.91,338.83 407.23,339.3 410.55,339.75 413.87,340.19 417.2,340.61 420.52,341.02 423.84,341.42 427.16,341.81 430.48,342.18 433.81,342.54 437.13,342.89 440.45,343.23 443.77,343.57 447.09,343.89 450.42,344.2 453.74,344.51 457.06,344.8 460.38,345.09 463.7,345.38 467.03,345.65 470.35,345.92 473.67,346.18" fill="none" stroke="#222" stroke-width="1" stroke-linejoin="round"/><text x="329.8" y="278.5" font-size="4.3" font-weight="bold" text-anchor="start" fill="#111" textLength="15.6" lengthAdjust="spacingAndGlyphs" stroke="#111" stroke-width="0.4">4000mm</text><text x="329.8" y="312.1" font-size="4.3" font-weight="bold" text-anchor="start" fill="#111" textLength="15.6" lengthAdjust="spacingAndGlyphs" stroke="#111" stroke-width="0.4">5500mm</text><text x="329.8" y="329.9" font-size="4.3" font-weight="bold" text-anchor="start" fill="#111" textLength="15.6" lengthAdjust="spacingAndGlyphs" stroke="#111" stroke-width="0.4">6000mm</text><text x="374" y="279.1" font-size="4.3" font-weight="bold" text-anchor="start" fill="#111" textLength="16" lengthAdjust="spacingAndGlyphs" stroke="#111" stroke-width="0.4">4500mm</text><text x="390.5" y="290" font-size="4.3" font-weight="bold" text-anchor="start" fill="#111" textLength="16" lengthAdjust="spacingAndGlyphs" stroke="#111" stroke-width="0.4">4750mm</text><text x="407.6" y="298.3" font-size="4.3" font-weight="bold" text-anchor="start" fill="#111" textLength="16.4" lengthAdjust="spacingAndGlyphs" stroke="#111" stroke-width="0.4">5000mm</text><line x1="374" y1="277.9" x2="366.1" y2="284.4" stroke="#222" stroke-width="0.7"/><line x1="390.5" y1="288.7" x2="382.6" y2="296.3" stroke="#222" stroke-width="0.7"/><line x1="407.6" y1="297" x2="397.7" y2="308.6" stroke="#222" stroke-width="0.7"/><rect x="440.95" y="262.9" width="32.12" height="19.75" fill="#fff"/><text x="456.6" y="271.3" font-size="8" font-weight="normal" text-anchor="middle" fill="#1a1a1a" textLength="22.8" lengthAdjust="spacingAndGlyphs" stroke="#1a1a1a" stroke-width="0.3">B18T–7</text><text x="456.6" y="280.6" font-size="8" font-weight="normal" text-anchor="middle" fill="#1a1a1a" textLength="9.2" lengthAdjust="spacingAndGlyphs" stroke="#1a1a1a" stroke-width="0.3">FFT</text><text x="315.9" y="275.22" font-size="7.3" font-weight="bold" text-anchor="end" fill="#111" textLength="9.6" lengthAdjust="spacingAndGlyphs" stroke="#111" stroke-width="0.55">1800</text><text x="315.9" y="285.65" font-size="7.3" font-weight="bold" text-anchor="end" fill="#111" textLength="9.6" lengthAdjust="spacingAndGlyphs" stroke="#111" stroke-width="0.55">1600</text><text x="315.9" y="296.07" font-size="7.3" font-weight="bold" text-anchor="end" fill="#111" textLength="9.6" lengthAdjust="spacingAndGlyphs" stroke="#111" stroke-width="0.55">1400</text><text x="315.9" y="306.5" font-size="7.3" font-weight="bold" text-anchor="end" fill="#111" textLength="9.6" lengthAdjust="spacingAndGlyphs" stroke="#111" stroke-width="0.55">1200</text><text x="315.9" y="316.92" font-size="7.3" font-weight="bold" text-anchor="end" fill="#111" textLength="9.6" lengthAdjust="spacingAndGlyphs" stroke="#111" stroke-width="0.55">1000</text><text x="315.9" y="327.35" font-size="7.3" font-weight="bold" text-anchor="end" fill="#111" textLength="7.2" lengthAdjust="spacingAndGlyphs" stroke="#111" stroke-width="0.55">800</text><text x="315.9" y="337.77" font-size="7.3" font-weight="bold" text-anchor="end" fill="#111" textLength="7.2" lengthAdjust="spacingAndGlyphs" stroke="#111" stroke-width="0.55">600</text><text x="293" y="279" font-size="8.4" font-weight="normal" text-anchor="middle" fill="#222" textLength="7" lengthAdjust="spacingAndGlyphs" stroke="#222" stroke-width="0.5">Kg</text><path d="M292.9,281.1 L295.7,285.3 L294.2,285.3 L294.2,291.1 L291.6,291.1 L291.6,285.3 L290.1,285.3 Z" fill="#fff" stroke="#333" stroke-width="0.9"/><rect x="291.1" y="293.1" width="3.6" height="3.24" fill="#fff" stroke="#333" stroke-width="0.95"/><rect x="291.2" y="297.7" width="3.4" height="3.06" fill="#ccc" stroke="#333" stroke-width="0.95"/><rect x="291.2" y="302.3" width="3.4" height="3.06" fill="#999" stroke="#333" stroke-width="0.95"/><rect x="321.7" y="355" width="151.97" height="17.7" fill="#fff" stroke="#3a3a3a" stroke-width="1.1"/><text x="358.1" y="361.9" font-size="6.9" font-weight="bold" text-anchor="middle" fill="#111" textLength="7.6" lengthAdjust="spacingAndGlyphs" stroke="#111" stroke-width="0.5">500</text><text x="374" y="361.9" font-size="6.9" font-weight="bold" text-anchor="middle" fill="#111" textLength="7.1" lengthAdjust="spacingAndGlyphs" stroke="#111" stroke-width="0.5">600</text><text x="391.4" y="361.9" font-size="6.9" font-weight="bold" text-anchor="middle" fill="#111" textLength="6.8" lengthAdjust="spacingAndGlyphs" stroke="#111" stroke-width="0.5">700</text><text x="407.3" y="361.9" font-size="6.9" font-weight="bold" text-anchor="middle" fill="#111" textLength="7.2" lengthAdjust="spacingAndGlyphs" stroke="#111" stroke-width="0.5">800</text><text x="422.3" y="361.9" font-size="6.9" font-weight="bold" text-anchor="middle" fill="#111" textLength="7.4" lengthAdjust="spacingAndGlyphs" stroke="#111" stroke-width="0.5">900</text><text x="437.1" y="361.9" font-size="6.9" font-weight="bold" text-anchor="middle" fill="#111" textLength="9.2" lengthAdjust="spacingAndGlyphs" stroke="#111" stroke-width="0.5">1000</text><text x="453.3" y="361.9" font-size="6.9" font-weight="bold" text-anchor="middle" fill="#111" textLength="8.7" lengthAdjust="spacingAndGlyphs" stroke="#111" stroke-width="0.5">1100</text><text x="467.6" y="361.9" font-size="6.9" font-weight="bold" text-anchor="middle" fill="#111" textLength="9.7" lengthAdjust="spacingAndGlyphs" stroke="#111" stroke-width="0.5">1200</text><rect x="428" y="365.8" width="3.1" height="2.6" rx="0.5" fill="#fff" stroke="#333" stroke-width="1.0"/><rect x="432" y="365.8" width="3.1" height="2.6" rx="0.5" fill="#fff" stroke="#333" stroke-width="1.0"/><rect x="436" y="365.8" width="3.1" height="2.6" rx="0.5" fill="#fff" stroke="#333" stroke-width="1.0"/><rect x="440" y="365.8" width="3.1" height="2.6" rx="0.5" fill="#fff" stroke="#333" stroke-width="1.0"/><path d="M444.1,366.1 L449.1,366.1 L449.1,364.9 L452.9,367.2 L449.1,369.5 L449.1,368.3 L444.1,368.3 Z" fill="#fff" stroke="#333" stroke-width="1.0"/><text x="456.3" y="369.5" font-size="7" font-weight="bold" text-anchor="start" fill="#222" textLength="10.7" lengthAdjust="spacingAndGlyphs" stroke="#222" stroke-width="0.2">mm</text><rect x="497.9" y="248.7" width="201.6" height="128.4" rx="5" ry="5" fill="#fff" stroke="#2e2e2e" stroke-width="1.4"/><rect x="503.2" y="262.2" width="34.8" height="90.9" fill="#fff" stroke="#3a3a3a" stroke-width="1.1"/><path d="M539.6,262 L539.6,347.5 Q539.6,352.1 544.2,352.1 L692.27,348.4 L692.27,345.7 L547.4,345.7 Q545.2,345.7 545.2,343.5 L545.2,262 Z" fill="url(#hatch)" stroke="#333" stroke-width="1"/><rect x="546.8" y="262.3" width="145.47" height="83.4" fill="#fff"/><line x1="576.5" y1="262.5" x2="576.5" y2="345.5" stroke="#1e1e1e" stroke-width="1"/><line x1="592.5" y1="262.5" x2="592.5" y2="345.5" stroke="#1e1e1e" stroke-width="1"/><line x1="609.5" y1="262.5" x2="609.5" y2="345.5" stroke="#1e1e1e" stroke-width="1"/><line x1="625.5" y1="262.5" x2="625.5" y2="345.5" stroke="#1e1e1e" stroke-width="1"/><line x1="642.5" y1="262.5" x2="642.5" y2="345.5" stroke="#1e1e1e" stroke-width="1"/><line x1="659.5" y1="262.5" x2="659.5" y2="345.5" stroke="#1e1e1e" stroke-width="1"/><line x1="675.5" y1="262.5" x2="675.5" y2="345.5" stroke="#1e1e1e" stroke-width="1"/><line x1="546.5" y1="272.5" x2="692.5" y2="272.5" stroke="#1e1e1e" stroke-width="1"/><line x1="546.5" y1="283.5" x2="692.5" y2="283.5" stroke="#1e1e1e" stroke-width="1"/><line x1="546.5" y1="293.5" x2="692.5" y2="293.5" stroke="#1e1e1e" stroke-width="1"/><line x1="546.5" y1="304.5" x2="692.5" y2="304.5" stroke="#1e1e1e" stroke-width="1"/><line x1="546.5" y1="314.5" x2="692.5" y2="314.5" stroke="#1e1e1e" stroke-width="1"/><line x1="546.5" y1="324.5" x2="692.5" y2="324.5" stroke="#1e1e1e" stroke-width="1"/><line x1="546.5" y1="335.5" x2="692.5" y2="335.5" stroke="#1e1e1e" stroke-width="1"/><rect x="546.5" y="262.5" width="146" height="83" fill="none" stroke="#1e1e1e" stroke-width="1"/><line x1="546.5" y1="346.3" x2="692.5" y2="346.3" stroke="#333" stroke-width="1.6"/><polyline points="547.6,275.33 576,275.33 579.32,277.58 582.64,279.73 585.97,281.78 589.29,283.76 592.61,285.65 595.93,287.47 599.25,289.21 602.58,290.89 605.9,292.51 609.22,294.07 612.54,295.57 615.86,297.02 619.19,298.41 622.51,299.76 625.83,301.06 629.15,302.32 632.47,303.54 635.8,304.72 639.12,305.86 642.44,306.97 645.76,308.04 649.08,309.08 652.41,310.09 655.73,311.07 659.05,312.03 662.37,312.95 665.69,313.85 669.02,314.72 672.34,315.57 675.66,316.4 678.98,317.2 682.3,317.99 685.63,318.75 688.95,319.5 692.27,320.22" fill="none" stroke="#222" stroke-width="1" stroke-linejoin="round"/><polyline points="547.6,279.24 576,279.24 579.32,281.4 582.64,283.47 585.97,285.45 589.29,287.34 592.61,289.16 595.93,290.91 599.25,292.59 602.58,294.2 605.9,295.76 609.22,297.26 612.54,298.7 615.86,300.09 619.19,301.43 622.51,302.73 625.83,303.98 629.15,305.19 632.47,306.37 635.8,307.5 639.12,308.6 642.44,309.66 645.76,310.7 649.08,311.7 652.41,312.67 655.73,313.61 659.05,314.52 662.37,315.41 665.69,316.28 669.02,317.12 672.34,317.93 675.66,318.73 678.98,319.5 682.3,320.26 685.63,320.99 688.95,321.71 692.27,322.4" fill="none" stroke="#222" stroke-width="1" stroke-linejoin="round"/><polyline points="547.6,281.85 576,281.85 579.32,283.95 582.64,285.96 585.97,287.89 589.29,289.73 592.61,291.5 595.93,293.21 599.25,294.84 602.58,296.41 605.9,297.92 609.22,299.38 612.54,300.79 615.86,302.14 619.19,303.45 622.51,304.71 625.83,305.93 629.15,307.11 632.47,308.25 635.8,309.35 639.12,310.42 642.44,311.46 645.76,312.46 649.08,313.44 652.41,314.38 655.73,315.3 659.05,316.19 662.37,317.05 665.69,317.9 669.02,318.71 672.34,319.51 675.66,320.28 678.98,321.04 682.3,321.77 685.63,322.48 688.95,323.18 692.27,323.86" fill="none" stroke="#222" stroke-width="1" stroke-linejoin="round"/><polyline points="547.6,283.15 576,283.15 579.32,285.22 582.64,287.21 585.97,289.11 589.29,290.93 592.61,292.68 595.93,294.35 599.25,295.97 602.58,297.52 605.9,299.01 609.22,300.44 612.54,301.83 615.86,303.17 619.19,304.46 622.51,305.7 625.83,306.9 629.15,308.07 632.47,309.19 635.8,310.28 639.12,311.33 642.44,312.36 645.76,313.35 649.08,314.31 652.41,315.24 655.73,316.14 659.05,317.02 662.37,317.88 665.69,318.7 669.02,319.51 672.34,320.3 675.66,321.06 678.98,321.8 682.3,322.53 685.63,323.23 688.95,323.92 692.27,324.59" fill="none" stroke="#222" stroke-width="1" stroke-linejoin="round"/><polyline points="547.6,288.36 576,288.36 579.32,290.32 582.64,292.19 585.97,293.99 589.29,295.71 592.61,297.36 595.93,298.94 599.25,300.47 602.58,301.93 605.9,303.34 609.22,304.7 612.54,306 615.86,307.27 619.19,308.48 622.51,309.66 625.83,310.8 629.15,311.89 632.47,312.96 635.8,313.99 639.12,314.98 642.44,315.95 645.76,316.88 649.08,317.79 652.41,318.67 655.73,319.52 659.05,320.35 662.37,321.16 665.69,321.94 669.02,322.7 672.34,323.44 675.66,324.17 678.98,324.87 682.3,325.55 685.63,326.22 688.95,326.87 692.27,327.5" fill="none" stroke="#222" stroke-width="1" stroke-linejoin="round"/><polyline points="547.6,294.88 576,294.88 579.32,296.69 582.64,298.43 585.97,300.09 589.29,301.68 592.61,303.21 595.93,304.68 599.25,306.09 602.58,307.45 605.9,308.75 609.22,310.01 612.54,311.22 615.86,312.39 619.19,313.52 622.51,314.61 625.83,315.66 629.15,316.68 632.47,317.66 635.8,318.62 639.12,319.54 642.44,320.43 645.76,321.3 649.08,322.14 652.41,322.96 655.73,323.75 659.05,324.52 662.37,325.26 665.69,325.99 669.02,326.69 672.34,327.38 675.66,328.05 678.98,328.7 682.3,329.33 685.63,329.95 688.95,330.55 692.27,331.14" fill="none" stroke="#222" stroke-width="1" stroke-linejoin="round"/><text x="548.4" y="272.2" font-size="4.3" font-weight="bold" text-anchor="start" fill="#111" textLength="15.6" lengthAdjust="spacingAndGlyphs" stroke="#111" stroke-width="0.4">4000mm</text><text x="548.4" y="287.7" font-size="4.3" font-weight="bold" text-anchor="start" fill="#111" textLength="15.6" lengthAdjust="spacingAndGlyphs" stroke="#111" stroke-width="0.4">5500mm</text><text x="548.4" y="293.6" font-size="4.3" font-weight="bold" text-anchor="start" fill="#111" textLength="15.6" lengthAdjust="spacingAndGlyphs" stroke="#111" stroke-width="0.4">6000mm</text><text x="591.7" y="279.4" font-size="4.3" font-weight="bold" text-anchor="start" fill="#111" textLength="16" lengthAdjust="spacingAndGlyphs" stroke="#111" stroke-width="0.4">4500mm</text><text x="609.5" y="289.9" font-size="4.3" font-weight="bold" text-anchor="start" fill="#111" textLength="16" lengthAdjust="spacingAndGlyphs" stroke="#111" stroke-width="0.4">4750mm</text><text x="626.6" y="298.1" font-size="4.3" font-weight="bold" text-anchor="start" fill="#111" textLength="16.4" lengthAdjust="spacingAndGlyphs" stroke="#111" stroke-width="0.4">5000mm</text><line x1="591.7" y1="278.1" x2="585.1" y2="283.7" stroke="#222" stroke-width="0.7"/><line x1="609.5" y1="288.6" x2="602.2" y2="294.9" stroke="#222" stroke-width="0.7"/><line x1="626.6" y1="296.8" x2="621.5" y2="303.5" stroke="#222" stroke-width="0.7"/><rect x="659.55" y="262.9" width="32.12" height="19.75" fill="#fff"/><text x="675.2" y="271.3" font-size="8" font-weight="normal" text-anchor="middle" fill="#1a1a1a" textLength="22.8" lengthAdjust="spacingAndGlyphs" stroke="#1a1a1a" stroke-width="0.3">B20T–7</text><text x="675.2" y="280.6" font-size="8" font-weight="normal" text-anchor="middle" fill="#1a1a1a" textLength="9.2" lengthAdjust="spacingAndGlyphs" stroke="#1a1a1a" stroke-width="0.3">FFT</text><text x="534.5" y="275.22" font-size="7.3" font-weight="bold" text-anchor="end" fill="#111" textLength="9.6" lengthAdjust="spacingAndGlyphs" stroke="#111" stroke-width="0.55">2000</text><text x="534.5" y="285.65" font-size="7.3" font-weight="bold" text-anchor="end" fill="#111" textLength="9.6" lengthAdjust="spacingAndGlyphs" stroke="#111" stroke-width="0.55">1800</text><text x="534.5" y="296.07" font-size="7.3" font-weight="bold" text-anchor="end" fill="#111" textLength="9.6" lengthAdjust="spacingAndGlyphs" stroke="#111" stroke-width="0.55">1600</text><text x="534.5" y="306.5" font-size="7.3" font-weight="bold" text-anchor="end" fill="#111" textLength="9.6" lengthAdjust="spacingAndGlyphs" stroke="#111" stroke-width="0.55">1400</text><text x="534.5" y="316.92" font-size="7.3" font-weight="bold" text-anchor="end" fill="#111" textLength="9.6" lengthAdjust="spacingAndGlyphs" stroke="#111" stroke-width="0.55">1200</text><text x="534.5" y="327.35" font-size="7.3" font-weight="bold" text-anchor="end" fill="#111" textLength="9.6" lengthAdjust="spacingAndGlyphs" stroke="#111" stroke-width="0.55">1000</text><text x="534.5" y="337.77" font-size="7.3" font-weight="bold" text-anchor="end" fill="#111" textLength="7.2" lengthAdjust="spacingAndGlyphs" stroke="#111" stroke-width="0.55">800</text><text x="511.6" y="279" font-size="8.4" font-weight="normal" text-anchor="middle" fill="#222" textLength="7" lengthAdjust="spacingAndGlyphs" stroke="#222" stroke-width="0.5">Kg</text><path d="M511.5,281.1 L514.3,285.3 L512.8,285.3 L512.8,291.1 L510.2,291.1 L510.2,285.3 L508.7,285.3 Z" fill="#fff" stroke="#333" stroke-width="0.9"/><rect x="509.7" y="293.1" width="3.6" height="3.24" fill="#fff" stroke="#333" stroke-width="0.95"/><rect x="509.8" y="297.7" width="3.4" height="3.06" fill="#ccc" stroke="#333" stroke-width="0.95"/><rect x="509.8" y="302.3" width="3.4" height="3.06" fill="#999" stroke="#333" stroke-width="0.95"/><rect x="540.3" y="355" width="151.97" height="17.7" fill="#fff" stroke="#3a3a3a" stroke-width="1.1"/><text x="576.7" y="361.9" font-size="6.9" font-weight="bold" text-anchor="middle" fill="#111" textLength="7.6" lengthAdjust="spacingAndGlyphs" stroke="#111" stroke-width="0.5">500</text><text x="592.6" y="361.9" font-size="6.9" font-weight="bold" text-anchor="middle" fill="#111" textLength="7.1" lengthAdjust="spacingAndGlyphs" stroke="#111" stroke-width="0.5">600</text><text x="610" y="361.9" font-size="6.9" font-weight="bold" text-anchor="middle" fill="#111" textLength="6.8" lengthAdjust="spacingAndGlyphs" stroke="#111" stroke-width="0.5">700</text><text x="625.9" y="361.9" font-size="6.9" font-weight="bold" text-anchor="middle" fill="#111" textLength="7.2" lengthAdjust="spacingAndGlyphs" stroke="#111" stroke-width="0.5">800</text><text x="640.9" y="361.9" font-size="6.9" font-weight="bold" text-anchor="middle" fill="#111" textLength="7.4" lengthAdjust="spacingAndGlyphs" stroke="#111" stroke-width="0.5">900</text><text x="655.7" y="361.9" font-size="6.9" font-weight="bold" text-anchor="middle" fill="#111" textLength="9.2" lengthAdjust="spacingAndGlyphs" stroke="#111" stroke-width="0.5">1000</text><text x="671.9" y="361.9" font-size="6.9" font-weight="bold" text-anchor="middle" fill="#111" textLength="8.7" lengthAdjust="spacingAndGlyphs" stroke="#111" stroke-width="0.5">1100</text><text x="686.2" y="361.9" font-size="6.9" font-weight="bold" text-anchor="middle" fill="#111" textLength="9.7" lengthAdjust="spacingAndGlyphs" stroke="#111" stroke-width="0.5">1200</text><rect x="646.6" y="365.8" width="3.1" height="2.6" rx="0.5" fill="#fff" stroke="#333" stroke-width="1.0"/><rect x="650.6" y="365.8" width="3.1" height="2.6" rx="0.5" fill="#fff" stroke="#333" stroke-width="1.0"/><rect x="654.6" y="365.8" width="3.1" height="2.6" rx="0.5" fill="#fff" stroke="#333" stroke-width="1.0"/><rect x="658.6" y="365.8" width="3.1" height="2.6" rx="0.5" fill="#fff" stroke="#333" stroke-width="1.0"/><path d="M662.7,366.1 L667.7,366.1 L667.7,364.9 L671.5,367.2 L667.7,369.5 L667.7,368.3 L662.7,368.3 Z" fill="#fff" stroke="#333" stroke-width="1.0"/><text x="674.9" y="369.5" font-size="7" font-weight="bold" text-anchor="start" fill="#222" textLength="10.7" lengthAdjust="spacingAndGlyphs" stroke="#222" stroke-width="0.2">mm</text></svg><div class="r" style="left:54.5px;top:443.3px;width:651.5px;height:54.6px;background:#fbe7d7"></div><div class="r" style="left:243px;top:461px;width:463px;height:1px;background:#f0c2a8"></div><div class="r" style="left:243px;top:479.2px;width:463px;height:1px;background:#f0c2a8"></div><div class="r" style="left:54.5px;top:496.9px;width:651.5px;height:1px;background:#f2c9b2"></div><div class="r" style="left:112px;top:443.3px;width:1px;height:54.6px;background:#e2b29a"></div><div class="r" style="left:154.8px;top:443.3px;width:1px;height:54.6px;background:#e2b29a"></div><div class="r" style="left:198.5px;top:443.3px;width:1px;height:54.6px;background:#e2b29a"></div><div class="r" style="left:242.5px;top:443.3px;width:1px;height:54.6px;background:#e2b29a"></div><div class="r" style="left:473.7px;top:443.3px;width:1px;height:54.6px;background:#e2b29a"></div><div class="r" style="left:357.8px;top:461.5px;width:1px;height:36.4px;background:#e2b29a"></div><div class="r" style="left:589.5px;top:461.5px;width:1px;height:36.4px;background:#e2b29a"></div><div class="r" style="left:299.5px;top:479.7px;width:1px;height:18.2px;background:#e2b29a"></div><div class="r" style="left:415.5px;top:479.7px;width:1px;height:18.2px;background:#e2b29a"></div><div class="r" style="left:531.2px;top:479.7px;width:1px;height:18.2px;background:#e2b29a"></div><div class="r" style="left:647px;top:479.7px;width:1px;height:18.2px;background:#e2b29a"></div><div class="r" style="left:54px;top:442.8px;width:652px;height:1px;background:#a8968a"></div><div class="c h2" style="left:54.5px;top:444.6px;width:58px;height:54.6px"><div>TRUCK<br>MODEL</div></div><div class="c h2" style="left:112.5px;top:444.6px;width:42.8px;height:54.6px"><div>MAST<br>종류</div></div><div class="c h2" style="left:155.3px;top:444.6px;width:43.7px;height:54.6px"><div>최대<br>양고</div></div><div class="c h2" style="left:199px;top:444.6px;width:44px;height:54.6px"><div>전고<br><span class="sq2">(OAL)</span></div></div><div class="c hk" style="left:243px;top:441.9px;width:231.2px;height:18.2px">최대높이</div><div class="c hk" style="left:474.2px;top:441.9px;width:231.8px;height:18.2px">자유인상높이</div><div class="c h1" style="left:243px;top:461.5px;width:115.3px;height:18.2px">W/LBR</div><div class="c h1" style="left:358.3px;top:461.5px;width:115.9px;height:18.2px">WO/LBR</div><div class="c h1" style="left:474.2px;top:461.5px;width:115.8px;height:18.2px">W/LBR</div><div class="c h1" style="left:590px;top:461.5px;width:116px;height:18.2px">WO/LBR</div><div class="c h1 hs" style="left:243px;top:479.7px;width:57px;height:18.2px">B15/18T-7</div><div class="c h1 hs" style="left:300px;top:479.7px;width:58.3px;height:18.2px">B20T-7</div><div class="c h1 hs" style="left:358.3px;top:479.7px;width:57.7px;height:18.2px">B15/18T-7</div><div class="c h1 hs" style="left:416px;top:479.7px;width:58.2px;height:18.2px">B20T-7</div><div class="c h1 hs" style="left:474.2px;top:479.7px;width:57.5px;height:18.2px">B15/18T-7</div><div class="c h1 hs" style="left:531.7px;top:479.7px;width:58.3px;height:18.2px">B20T-7</div><div class="c h1 hs" style="left:590px;top:479.7px;width:57.5px;height:18.2px">B15/18T-7</div><div class="c h1 hs" style="left:647.5px;top:479.7px;width:58.5px;height:18.2px">B20T-7</div><div class="r" style="left:112px;top:497.9px;width:1px;height:217.05px;background:#3a3a3a"></div><div class="r" style="left:154.8px;top:497.9px;width:1px;height:217.05px;background:#3a3a3a"></div><div class="r" style="left:198.5px;top:497.9px;width:1px;height:217.05px;background:#3a3a3a"></div><div class="r" style="left:242.5px;top:497.9px;width:1px;height:217.05px;background:#3a3a3a"></div><div class="r" style="left:299.5px;top:497.9px;width:1px;height:217.05px;background:#3a3a3a"></div><div class="r" style="left:357.8px;top:497.9px;width:1px;height:217.05px;background:#3a3a3a"></div><div class="r" style="left:415.5px;top:497.9px;width:1px;height:217.05px;background:#3a3a3a"></div><div class="r" style="left:473.7px;top:497.9px;width:1px;height:217.05px;background:#3a3a3a"></div><div class="r" style="left:531.2px;top:497.9px;width:1px;height:217.05px;background:#3a3a3a"></div><div class="r" style="left:589.5px;top:497.9px;width:1px;height:217.05px;background:#3a3a3a"></div><div class="r" style="left:647px;top:497.9px;width:1px;height:217.05px;background:#3a3a3a"></div><div class="r" style="left:155.3px;top:511.87px;width:550.7px;height:1px;background:#3a3a3a"></div><div class="r" style="left:155.3px;top:526.34px;width:550.7px;height:1px;background:#3a3a3a"></div><div class="r" style="left:155.3px;top:540.81px;width:550.7px;height:1px;background:#3a3a3a"></div><div class="r" style="left:155.3px;top:555.28px;width:550.7px;height:1px;background:#3a3a3a"></div><div class="r" style="left:155.3px;top:569.75px;width:550.7px;height:1px;background:#3a3a3a"></div><div class="r" style="left:112.5px;top:584.22px;width:593.5px;height:1px;background:#3a3a3a"></div><div class="r" style="left:155.3px;top:598.69px;width:550.7px;height:1px;background:#3a3a3a"></div><div class="r" style="left:155.3px;top:613.16px;width:550.7px;height:1px;background:#3a3a3a"></div><div class="r" style="left:112.5px;top:627.63px;width:593.5px;height:1px;background:#3a3a3a"></div><div class="r" style="left:155.3px;top:642.1px;width:550.7px;height:1px;background:#3a3a3a"></div><div class="r" style="left:155.3px;top:656.57px;width:550.7px;height:1px;background:#3a3a3a"></div><div class="r" style="left:155.3px;top:671.04px;width:550.7px;height:1px;background:#3a3a3a"></div><div class="r" style="left:155.3px;top:685.51px;width:550.7px;height:1px;background:#3a3a3a"></div><div class="r" style="left:155.3px;top:699.98px;width:550.7px;height:1px;background:#3a3a3a"></div><div class="r" style="left:54px;top:714.15px;width:652px;height:1.6px;background:#4a4a4a"></div><div class="c bb" style="left:155.3px;top:497.9px;width:43.7px;height:14.47px">3000</div><div class="c bn" style="left:199px;top:497.9px;width:44px;height:14.47px">2000</div><div class="c bn" style="left:243px;top:497.9px;width:57px;height:14.47px">4045</div><div class="c bn" style="left:300px;top:497.9px;width:58.3px;height:14.47px">4050</div><div class="c bn" style="left:358.3px;top:497.9px;width:57.7px;height:14.47px">3600</div><div class="c bn" style="left:416px;top:497.9px;width:58.2px;height:14.47px">3605</div><div class="c bn" style="left:474.2px;top:497.9px;width:57.5px;height:14.47px">130</div><div class="c bn" style="left:531.7px;top:497.9px;width:58.3px;height:14.47px">135</div><div class="c bn" style="left:590px;top:497.9px;width:57.5px;height:14.47px">130</div><div class="c bn" style="left:647.5px;top:497.9px;width:58.5px;height:14.47px">135</div><div class="c bb" style="left:155.3px;top:512.37px;width:43.7px;height:14.47px">3300</div><div class="c bn" style="left:199px;top:512.37px;width:44px;height:14.47px">2150</div><div class="c bn" style="left:243px;top:512.37px;width:57px;height:14.47px">4345</div><div class="c bn" style="left:300px;top:512.37px;width:58.3px;height:14.47px">4350</div><div class="c bn" style="left:358.3px;top:512.37px;width:57.7px;height:14.47px">3900</div><div class="c bn" style="left:416px;top:512.37px;width:58.2px;height:14.47px">3905</div><div class="c bn" style="left:474.2px;top:512.37px;width:57.5px;height:14.47px">130</div><div class="c bn" style="left:531.7px;top:512.37px;width:58.3px;height:14.47px">135</div><div class="c bn" style="left:590px;top:512.37px;width:57.5px;height:14.47px">130</div><div class="c bn" style="left:647.5px;top:512.37px;width:58.5px;height:14.47px">135</div><div class="c bb" style="left:155.3px;top:526.84px;width:43.7px;height:14.47px">3500</div><div class="c bn" style="left:199px;top:526.84px;width:44px;height:14.47px">2250</div><div class="c bn" style="left:243px;top:526.84px;width:57px;height:14.47px">4545</div><div class="c bn" style="left:300px;top:526.84px;width:58.3px;height:14.47px">4550</div><div class="c bn" style="left:358.3px;top:526.84px;width:57.7px;height:14.47px">4100</div><div class="c bn" style="left:416px;top:526.84px;width:58.2px;height:14.47px">4105</div><div class="c bn" style="left:474.2px;top:526.84px;width:57.5px;height:14.47px">130</div><div class="c bn" style="left:531.7px;top:526.84px;width:58.3px;height:14.47px">135</div><div class="c bn" style="left:590px;top:526.84px;width:57.5px;height:14.47px">130</div><div class="c bn" style="left:647.5px;top:526.84px;width:58.5px;height:14.47px">135</div><div class="c bb" style="left:155.3px;top:541.31px;width:43.7px;height:14.47px">3700</div><div class="c bn" style="left:199px;top:541.31px;width:44px;height:14.47px">2350</div><div class="c bn" style="left:243px;top:541.31px;width:57px;height:14.47px">4745</div><div class="c bn" style="left:300px;top:541.31px;width:58.3px;height:14.47px">4750</div><div class="c bn" style="left:358.3px;top:541.31px;width:57.7px;height:14.47px">4300</div><div class="c bn" style="left:416px;top:541.31px;width:58.2px;height:14.47px">4305</div><div class="c bn" style="left:474.2px;top:541.31px;width:57.5px;height:14.47px">130</div><div class="c bn" style="left:531.7px;top:541.31px;width:58.3px;height:14.47px">135</div><div class="c bn" style="left:590px;top:541.31px;width:57.5px;height:14.47px">130</div><div class="c bn" style="left:647.5px;top:541.31px;width:58.5px;height:14.47px">135</div><div class="c bb" style="left:155.3px;top:555.78px;width:43.7px;height:14.47px">4000</div><div class="c bn" style="left:199px;top:555.78px;width:44px;height:14.47px">2550</div><div class="c bn" style="left:243px;top:555.78px;width:57px;height:14.47px">5045</div><div class="c bn" style="left:300px;top:555.78px;width:58.3px;height:14.47px">5050</div><div class="c bn" style="left:358.3px;top:555.78px;width:57.7px;height:14.47px">4600</div><div class="c bn" style="left:416px;top:555.78px;width:58.2px;height:14.47px">4605</div><div class="c bn" style="left:474.2px;top:555.78px;width:57.5px;height:14.47px">130</div><div class="c bn" style="left:531.7px;top:555.78px;width:58.3px;height:14.47px">135</div><div class="c bn" style="left:590px;top:555.78px;width:57.5px;height:14.47px">130</div><div class="c bn" style="left:647.5px;top:555.78px;width:58.5px;height:14.47px">135</div><div class="c bb" style="left:155.3px;top:570.25px;width:43.7px;height:14.47px">4500</div><div class="c bn" style="left:199px;top:570.25px;width:44px;height:14.47px">2800</div><div class="c bn" style="left:243px;top:570.25px;width:57px;height:14.47px">5545</div><div class="c bn" style="left:300px;top:570.25px;width:58.3px;height:14.47px">5550</div><div class="c bn" style="left:358.3px;top:570.25px;width:57.7px;height:14.47px">5100</div><div class="c bn" style="left:416px;top:570.25px;width:58.2px;height:14.47px">5105</div><div class="c bn" style="left:474.2px;top:570.25px;width:57.5px;height:14.47px">130</div><div class="c bn" style="left:531.7px;top:570.25px;width:58.3px;height:14.47px">135</div><div class="c bn" style="left:590px;top:570.25px;width:57.5px;height:14.47px">130</div><div class="c bn" style="left:647.5px;top:570.25px;width:58.5px;height:14.47px">135</div><div class="c bb" style="left:155.3px;top:584.72px;width:43.7px;height:14.47px">2700</div><div class="c bn" style="left:199px;top:584.72px;width:44px;height:14.47px">1850</div><div class="c bn" style="left:243px;top:584.72px;width:57px;height:14.47px">3745</div><div class="c bn" style="left:300px;top:584.72px;width:58.3px;height:14.47px">3750</div><div class="c bn" style="left:358.3px;top:584.72px;width:57.7px;height:14.47px">3325</div><div class="c bn" style="left:416px;top:584.72px;width:58.2px;height:14.47px">3330</div><div class="c bn" style="left:474.2px;top:584.72px;width:57.5px;height:14.47px">845</div><div class="c bn" style="left:531.7px;top:584.72px;width:58.3px;height:14.47px">845</div><div class="c bn" style="left:590px;top:584.72px;width:57.5px;height:14.47px">1265</div><div class="c bn" style="left:647.5px;top:584.72px;width:58.5px;height:14.47px">1265</div><div class="c bb" style="left:155.3px;top:599.19px;width:43.7px;height:14.47px">3000</div><div class="c bn" style="left:199px;top:599.19px;width:44px;height:14.47px">2000</div><div class="c bn" style="left:243px;top:599.19px;width:57px;height:14.47px">4045</div><div class="c bn" style="left:300px;top:599.19px;width:58.3px;height:14.47px">4050</div><div class="c bn" style="left:358.3px;top:599.19px;width:57.7px;height:14.47px">3625</div><div class="c bn" style="left:416px;top:599.19px;width:58.2px;height:14.47px">3630</div><div class="c bn" style="left:474.2px;top:599.19px;width:57.5px;height:14.47px">995</div><div class="c bn" style="left:531.7px;top:599.19px;width:58.3px;height:14.47px">995</div><div class="c bn" style="left:590px;top:599.19px;width:57.5px;height:14.47px">1415</div><div class="c bn" style="left:647.5px;top:599.19px;width:58.5px;height:14.47px">1415</div><div class="c bb" style="left:155.3px;top:613.66px;width:43.7px;height:14.47px">3300</div><div class="c bn" style="left:199px;top:613.66px;width:44px;height:14.47px">2150</div><div class="c bn" style="left:243px;top:613.66px;width:57px;height:14.47px">4345</div><div class="c bn" style="left:300px;top:613.66px;width:58.3px;height:14.47px">4350</div><div class="c bn" style="left:358.3px;top:613.66px;width:57.7px;height:14.47px">3925</div><div class="c bn" style="left:416px;top:613.66px;width:58.2px;height:14.47px">3930</div><div class="c bn" style="left:474.2px;top:613.66px;width:57.5px;height:14.47px">1145</div><div class="c bn" style="left:531.7px;top:613.66px;width:58.3px;height:14.47px">1145</div><div class="c bn" style="left:590px;top:613.66px;width:57.5px;height:14.47px">1565</div><div class="c bn" style="left:647.5px;top:613.66px;width:58.5px;height:14.47px">1565</div><div class="c bb" style="left:155.3px;top:628.13px;width:43.7px;height:14.47px">4000</div><div class="c bn" style="left:199px;top:628.13px;width:44px;height:14.47px">1880</div><div class="c bn" style="left:243px;top:628.13px;width:57px;height:14.47px">5050</div><div class="c bn" style="left:300px;top:628.13px;width:58.3px;height:14.47px">5055</div><div class="c bn" style="left:358.3px;top:628.13px;width:57.7px;height:14.47px">4630</div><div class="c bn" style="left:416px;top:628.13px;width:58.2px;height:14.47px">4635</div><div class="c bn" style="left:474.2px;top:628.13px;width:57.5px;height:14.47px">875</div><div class="c bn" style="left:531.7px;top:628.13px;width:58.3px;height:14.47px">875</div><div class="c bn" style="left:590px;top:628.13px;width:57.5px;height:14.47px">1295</div><div class="c bn" style="left:647.5px;top:628.13px;width:58.5px;height:14.47px">1295</div><div class="c bb" style="left:155.3px;top:642.6px;width:43.7px;height:14.47px">4500</div><div class="c bn" style="left:199px;top:642.6px;width:44px;height:14.47px">2045</div><div class="c bn" style="left:243px;top:642.6px;width:57px;height:14.47px">5545</div><div class="c bn" style="left:300px;top:642.6px;width:58.3px;height:14.47px">5550</div><div class="c bn" style="left:358.3px;top:642.6px;width:57.7px;height:14.47px">5125</div><div class="c bn" style="left:416px;top:642.6px;width:58.2px;height:14.47px">5130</div><div class="c bn" style="left:474.2px;top:642.6px;width:57.5px;height:14.47px">1040</div><div class="c bn" style="left:531.7px;top:642.6px;width:58.3px;height:14.47px">1040</div><div class="c bn" style="left:590px;top:642.6px;width:57.5px;height:14.47px">1460</div><div class="c bn" style="left:647.5px;top:642.6px;width:58.5px;height:14.47px">1460</div><div class="c bb" style="left:155.3px;top:657.07px;width:43.7px;height:14.47px">4750</div><div class="c bn" style="left:199px;top:657.07px;width:44px;height:14.47px">2130</div><div class="c bn" style="left:243px;top:657.07px;width:57px;height:14.47px">5795</div><div class="c bn" style="left:300px;top:657.07px;width:58.3px;height:14.47px">5800</div><div class="c bn" style="left:358.3px;top:657.07px;width:57.7px;height:14.47px">5375</div><div class="c bn" style="left:416px;top:657.07px;width:58.2px;height:14.47px">5380</div><div class="c bn" style="left:474.2px;top:657.07px;width:57.5px;height:14.47px">1125</div><div class="c bn" style="left:531.7px;top:657.07px;width:58.3px;height:14.47px">1125</div><div class="c bn" style="left:590px;top:657.07px;width:57.5px;height:14.47px">1545</div><div class="c bn" style="left:647.5px;top:657.07px;width:58.5px;height:14.47px">1545</div><div class="c bb" style="left:155.3px;top:671.54px;width:43.7px;height:14.47px">5000</div><div class="c bn" style="left:199px;top:671.54px;width:44px;height:14.47px">2245</div><div class="c bn" style="left:243px;top:671.54px;width:57px;height:14.47px">6045</div><div class="c bn" style="left:300px;top:671.54px;width:58.3px;height:14.47px">6050</div><div class="c bn" style="left:358.3px;top:671.54px;width:57.7px;height:14.47px">5625</div><div class="c bn" style="left:416px;top:671.54px;width:58.2px;height:14.47px">5630</div><div class="c bn" style="left:474.2px;top:671.54px;width:57.5px;height:14.47px">1240</div><div class="c bn" style="left:531.7px;top:671.54px;width:58.3px;height:14.47px">1240</div><div class="c bn" style="left:590px;top:671.54px;width:57.5px;height:14.47px">1660</div><div class="c bn" style="left:647.5px;top:671.54px;width:58.5px;height:14.47px">1660</div><div class="c bb" style="left:155.3px;top:686.01px;width:43.7px;height:14.47px">5500</div><div class="c bn" style="left:199px;top:686.01px;width:44px;height:14.47px">2480</div><div class="c bn" style="left:243px;top:686.01px;width:57px;height:14.47px">6550</div><div class="c bn" style="left:300px;top:686.01px;width:58.3px;height:14.47px">6555</div><div class="c bn" style="left:358.3px;top:686.01px;width:57.7px;height:14.47px">6130</div><div class="c bn" style="left:416px;top:686.01px;width:58.2px;height:14.47px">6135</div><div class="c bn" style="left:474.2px;top:686.01px;width:57.5px;height:14.47px">1475</div><div class="c bn" style="left:531.7px;top:686.01px;width:58.3px;height:14.47px">1475</div><div class="c bn" style="left:590px;top:686.01px;width:57.5px;height:14.47px">1895</div><div class="c bn" style="left:647.5px;top:686.01px;width:58.5px;height:14.47px">1895</div><div class="c bb" style="left:155.3px;top:700.48px;width:43.7px;height:14.47px">6000</div><div class="c bn" style="left:199px;top:700.48px;width:44px;height:14.47px">2645</div><div class="c bn" style="left:243px;top:700.48px;width:57px;height:14.47px">7045</div><div class="c bn" style="left:300px;top:700.48px;width:58.3px;height:14.47px">7050</div><div class="c bn" style="left:358.3px;top:700.48px;width:57.7px;height:14.47px">6625</div><div class="c bn" style="left:416px;top:700.48px;width:58.2px;height:14.47px">6630</div><div class="c bn" style="left:474.2px;top:700.48px;width:57.5px;height:14.47px">1640</div><div class="c bn" style="left:531.7px;top:700.48px;width:58.3px;height:14.47px">1640</div><div class="c bn" style="left:590px;top:700.48px;width:57.5px;height:14.47px">2060</div><div class="c bn" style="left:647.5px;top:700.48px;width:58.5px;height:14.47px">2060</div><div class="c bm" style="left:112.5px;top:497.9px;width:42.8px;height:86.82px">STD</div><div class="c bm" style="left:112.5px;top:584.72px;width:42.8px;height:43.41px">FFL</div><div class="c bm" style="left:112.5px;top:628.13px;width:42.8px;height:86.82px">FFT</div><div class="c bm" style="left:54.5px;top:580px;width:58px;height:14px">B15T-7</div><div class="c bm" style="left:54.5px;top:599px;width:58px;height:14px">B18T-7</div><div class="c bm" style="left:54.5px;top:618px;width:58px;height:14px">B20T-7</div><div class="r" style="left:54.5px;top:729.3px;width:651.5px;height:54.4px;background:#fbe7d7"></div><div class="r" style="left:199px;top:746.5px;width:507px;height:1px;background:#f0c2a8"></div><div class="r" style="left:54.5px;top:782.7px;width:651.5px;height:1px;background:#f2c9b2"></div><div class="r" style="left:112px;top:729.3px;width:1px;height:54.4px;background:#e2b29a"></div><div class="r" style="left:155.5px;top:729.3px;width:1px;height:54.4px;background:#e2b29a"></div><div class="r" style="left:198.5px;top:729.3px;width:1px;height:54.4px;background:#e2b29a"></div><div class="r" style="left:302.7px;top:729.3px;width:1px;height:54.4px;background:#e2b29a"></div><div class="r" style="left:503.9px;top:729.3px;width:1px;height:54.4px;background:#e2b29a"></div><div class="r" style="left:250.9px;top:747px;width:1px;height:36.7px;background:#e2b29a"></div><div class="r" style="left:371.1px;top:747px;width:1px;height:36.7px;background:#e2b29a"></div><div class="r" style="left:436.9px;top:747px;width:1px;height:36.7px;background:#e2b29a"></div><div class="r" style="left:571.3px;top:747px;width:1px;height:36.7px;background:#e2b29a"></div><div class="r" style="left:638.1px;top:747px;width:1px;height:36.7px;background:#e2b29a"></div><div class="r" style="left:54px;top:728.8px;width:652px;height:1px;background:#d9bcac"></div><div class="c h2" style="left:54.5px;top:731.2px;width:58px;height:54.4px"><div>TRUCK<br>MODEL</div></div><div class="c h2" style="left:112.5px;top:731.2px;width:43.5px;height:54.4px"><div>MAST<br>종류</div></div><div class="c h2" style="left:156px;top:731.2px;width:43px;height:54.4px"><div>최대<br>양고</div></div><div class="c hk" style="left:199px;top:727.8px;width:104.2px;height:17.7px">틸트각도</div><div class="c hk hkb" style="left:303.2px;top:727.8px;width:201.2px;height:17.7px">들어올림능력 (kg)</div><div class="c hk hkb" style="left:504.4px;top:727.8px;width:201.6px;height:17.7px">자중 (kg)</div><div class="c hk" style="left:199px;top:748px;width:52.4px;height:36.7px">전경</div><div class="c hk" style="left:251.4px;top:748px;width:51.8px;height:36.7px">후경</div><div class="c h1 h1b" style="left:303.2px;top:748px;width:68.4px;height:36.7px"><div><span class="sq">B15T-7</span></div></div><div class="c h1 h1b" style="left:371.6px;top:748px;width:65.8px;height:36.7px"><div><span class="sq">B18T-7</span></div></div><div class="c h1 h1b" style="left:437.4px;top:748px;width:67px;height:36.7px"><div><span class="sq">B20T-7</span></div></div><div class="c h1 h1b" style="left:504.4px;top:748px;width:67.4px;height:36.7px"><div><span class="sq">B15T-7</span></div></div><div class="c h1 h1b" style="left:571.8px;top:748px;width:66.8px;height:36.7px"><div><span class="sq">B18T-7</span></div></div><div class="c h1 h1b" style="left:638.6px;top:748px;width:67.4px;height:36.7px"><div><span class="sq">B20T-7</span></div></div><div class="r" style="left:112px;top:783.7px;width:1px;height:217.05px;background:#3a3a3a"></div><div class="r" style="left:155.5px;top:783.7px;width:1px;height:217.05px;background:#3a3a3a"></div><div class="r" style="left:198.5px;top:783.7px;width:1px;height:217.05px;background:#3a3a3a"></div><div class="r" style="left:250.9px;top:783.7px;width:1px;height:217.05px;background:#3a3a3a"></div><div class="r" style="left:302.7px;top:783.7px;width:1px;height:217.05px;background:#3a3a3a"></div><div class="r" style="left:371.1px;top:783.7px;width:1px;height:217.05px;background:#3a3a3a"></div><div class="r" style="left:436.9px;top:783.7px;width:1px;height:217.05px;background:#3a3a3a"></div><div class="r" style="left:503.9px;top:783.7px;width:1px;height:217.05px;background:#3a3a3a"></div><div class="r" style="left:571.3px;top:783.7px;width:1px;height:217.05px;background:#3a3a3a"></div><div class="r" style="left:638.1px;top:783.7px;width:1px;height:217.05px;background:#3a3a3a"></div><div class="r" style="left:156px;top:797.67px;width:550px;height:1px;background:#3a3a3a"></div><div class="r" style="left:156px;top:812.14px;width:550px;height:1px;background:#3a3a3a"></div><div class="r" style="left:156px;top:826.61px;width:550px;height:1px;background:#3a3a3a"></div><div class="r" style="left:156px;top:841.08px;width:550px;height:1px;background:#3a3a3a"></div><div class="r" style="left:156px;top:855.55px;width:550px;height:1px;background:#3a3a3a"></div><div class="r" style="left:112.5px;top:870.02px;width:593.5px;height:1px;background:#3a3a3a"></div><div class="r" style="left:156px;top:884.49px;width:550px;height:1px;background:#3a3a3a"></div><div class="r" style="left:156px;top:898.96px;width:550px;height:1px;background:#3a3a3a"></div><div class="r" style="left:112.5px;top:913.43px;width:593.5px;height:1px;background:#3a3a3a"></div><div class="r" style="left:156px;top:927.9px;width:550px;height:1px;background:#3a3a3a"></div><div class="r" style="left:156px;top:942.37px;width:550px;height:1px;background:#3a3a3a"></div><div class="r" style="left:156px;top:956.84px;width:550px;height:1px;background:#3a3a3a"></div><div class="r" style="left:156px;top:971.31px;width:550px;height:1px;background:#3a3a3a"></div><div class="r" style="left:156px;top:985.78px;width:550px;height:1px;background:#3a3a3a"></div><div class="r" style="left:54px;top:999.95px;width:652px;height:1.6px;background:#4a4a4a"></div><div class="c bb2" style="left:156px;top:783.7px;width:43px;height:14.47px">3000</div><div class="c bn" style="left:199px;top:783.7px;width:52.4px;height:14.47px">5</div><div class="c bn" style="left:251.4px;top:783.7px;width:51.8px;height:14.47px">7</div><div class="c bn" style="left:303.2px;top:783.7px;width:68.4px;height:14.47px">1500</div><div class="c bn" style="left:371.6px;top:783.7px;width:65.8px;height:14.47px">1750</div><div class="c bn" style="left:437.4px;top:783.7px;width:67px;height:14.47px">2000</div><div class="c bn" style="left:504.4px;top:783.7px;width:67.4px;height:14.47px">3008</div><div class="c bn" style="left:571.8px;top:783.7px;width:66.8px;height:14.47px">3122</div><div class="c bn" style="left:638.6px;top:783.7px;width:67.4px;height:14.47px">3452</div><div class="c bb2" style="left:156px;top:798.17px;width:43px;height:14.47px">3300</div><div class="c bn" style="left:199px;top:798.17px;width:52.4px;height:14.47px">5</div><div class="c bn" style="left:251.4px;top:798.17px;width:51.8px;height:14.47px">7</div><div class="c bn" style="left:303.2px;top:798.17px;width:68.4px;height:14.47px">1500</div><div class="c bn" style="left:371.6px;top:798.17px;width:65.8px;height:14.47px">1750</div><div class="c bn" style="left:437.4px;top:798.17px;width:67px;height:14.47px">2000</div><div class="c bn" style="left:504.4px;top:798.17px;width:67.4px;height:14.47px">3028</div><div class="c bn" style="left:571.8px;top:798.17px;width:66.8px;height:14.47px">3142</div><div class="c bn" style="left:638.6px;top:798.17px;width:67.4px;height:14.47px">3472</div><div class="c bb2" style="left:156px;top:812.64px;width:43px;height:14.47px">3500</div><div class="c bn" style="left:199px;top:812.64px;width:52.4px;height:14.47px">5</div><div class="c bn" style="left:251.4px;top:812.64px;width:51.8px;height:14.47px">7</div><div class="c bn" style="left:303.2px;top:812.64px;width:68.4px;height:14.47px">1500</div><div class="c bn" style="left:371.6px;top:812.64px;width:65.8px;height:14.47px">1750</div><div class="c bn" style="left:437.4px;top:812.64px;width:67px;height:14.47px">2000</div><div class="c bn" style="left:504.4px;top:812.64px;width:67.4px;height:14.47px">3042</div><div class="c bn" style="left:571.8px;top:812.64px;width:66.8px;height:14.47px">3156</div><div class="c bn" style="left:638.6px;top:812.64px;width:67.4px;height:14.47px">3486</div><div class="c bb2" style="left:156px;top:827.11px;width:43px;height:14.47px">3700</div><div class="c bn" style="left:199px;top:827.11px;width:52.4px;height:14.47px">5</div><div class="c bn" style="left:251.4px;top:827.11px;width:51.8px;height:14.47px">7</div><div class="c bn" style="left:303.2px;top:827.11px;width:68.4px;height:14.47px">1500</div><div class="c bn" style="left:371.6px;top:827.11px;width:65.8px;height:14.47px">1750</div><div class="c bn" style="left:437.4px;top:827.11px;width:67px;height:14.47px">2000</div><div class="c bn" style="left:504.4px;top:827.11px;width:67.4px;height:14.47px">3056</div><div class="c bn" style="left:571.8px;top:827.11px;width:66.8px;height:14.47px">3170</div><div class="c bn" style="left:638.6px;top:827.11px;width:67.4px;height:14.47px">3500</div><div class="c bb2" style="left:156px;top:841.58px;width:43px;height:14.47px">4000</div><div class="c bn" style="left:199px;top:841.58px;width:52.4px;height:14.47px">5</div><div class="c bn" style="left:251.4px;top:841.58px;width:51.8px;height:14.47px">7</div><div class="c bn" style="left:303.2px;top:841.58px;width:68.4px;height:14.47px">1500</div><div class="c bn" style="left:371.6px;top:841.58px;width:65.8px;height:14.47px">1750</div><div class="c bn" style="left:437.4px;top:841.58px;width:67px;height:14.47px">2000</div><div class="c bn" style="left:504.4px;top:841.58px;width:67.4px;height:14.47px">3116</div><div class="c bn" style="left:571.8px;top:841.58px;width:66.8px;height:14.47px">3230</div><div class="c bn" style="left:638.6px;top:841.58px;width:67.4px;height:14.47px">3560</div><div class="c bb2" style="left:156px;top:856.05px;width:43px;height:14.47px">4500</div><div class="c bn" style="left:199px;top:856.05px;width:52.4px;height:14.47px">5</div><div class="c bn" style="left:251.4px;top:856.05px;width:51.8px;height:14.47px">7</div><div class="c bn" style="left:303.2px;top:856.05px;width:68.4px;height:14.47px">1425</div><div class="c bn" style="left:371.6px;top:856.05px;width:65.8px;height:14.47px">1650</div><div class="c bn" style="left:437.4px;top:856.05px;width:67px;height:14.47px">1950</div><div class="c bn" style="left:504.4px;top:856.05px;width:67.4px;height:14.47px">3150</div><div class="c bn" style="left:571.8px;top:856.05px;width:66.8px;height:14.47px">3264</div><div class="c bn" style="left:638.6px;top:856.05px;width:67.4px;height:14.47px">3594</div><div class="c bb2" style="left:156px;top:870.52px;width:43px;height:14.47px">2700</div><div class="c bn" style="left:199px;top:870.52px;width:52.4px;height:14.47px">5</div><div class="c bn" style="left:251.4px;top:870.52px;width:51.8px;height:14.47px">5</div><div class="c bn" style="left:303.2px;top:870.52px;width:68.4px;height:14.47px">1500</div><div class="c bn" style="left:371.6px;top:870.52px;width:65.8px;height:14.47px">1750</div><div class="c bn" style="left:437.4px;top:870.52px;width:67px;height:14.47px">2000</div><div class="c bn" style="left:504.4px;top:870.52px;width:67.4px;height:14.47px">3036</div><div class="c bn" style="left:571.8px;top:870.52px;width:66.8px;height:14.47px">3150</div><div class="c bn" style="left:638.6px;top:870.52px;width:67.4px;height:14.47px">3480</div><div class="c bb2" style="left:156px;top:884.99px;width:43px;height:14.47px">3000</div><div class="c bn" style="left:199px;top:884.99px;width:52.4px;height:14.47px">5</div><div class="c bn" style="left:251.4px;top:884.99px;width:51.8px;height:14.47px">5</div><div class="c bn" style="left:303.2px;top:884.99px;width:68.4px;height:14.47px">1500</div><div class="c bn" style="left:371.6px;top:884.99px;width:65.8px;height:14.47px">1750</div><div class="c bn" style="left:437.4px;top:884.99px;width:67px;height:14.47px">2000</div><div class="c bn" style="left:504.4px;top:884.99px;width:67.4px;height:14.47px">3057</div><div class="c bn" style="left:571.8px;top:884.99px;width:66.8px;height:14.47px">3171</div><div class="c bn" style="left:638.6px;top:884.99px;width:67.4px;height:14.47px">3501</div><div class="c bb2" style="left:156px;top:899.46px;width:43px;height:14.47px">3300</div><div class="c bn" style="left:199px;top:899.46px;width:52.4px;height:14.47px">5</div><div class="c bn" style="left:251.4px;top:899.46px;width:51.8px;height:14.47px">5</div><div class="c bn" style="left:303.2px;top:899.46px;width:68.4px;height:14.47px">1500</div><div class="c bn" style="left:371.6px;top:899.46px;width:65.8px;height:14.47px">1750</div><div class="c bn" style="left:437.4px;top:899.46px;width:67px;height:14.47px">2000</div><div class="c bn" style="left:504.4px;top:899.46px;width:67.4px;height:14.47px">3078</div><div class="c bn" style="left:571.8px;top:899.46px;width:66.8px;height:14.47px">3192</div><div class="c bn" style="left:638.6px;top:899.46px;width:67.4px;height:14.47px">3522</div><div class="c bb2" style="left:156px;top:913.93px;width:43px;height:14.47px">4000</div><div class="c bn" style="left:199px;top:913.93px;width:52.4px;height:14.47px">5</div><div class="c bn" style="left:251.4px;top:913.93px;width:51.8px;height:14.47px">5</div><div class="c bn" style="left:303.2px;top:913.93px;width:68.4px;height:14.47px">1450</div><div class="c bn" style="left:371.6px;top:913.93px;width:65.8px;height:14.47px">1675</div><div class="c bn" style="left:437.4px;top:913.93px;width:67px;height:14.47px">1950</div><div class="c bn" style="left:504.4px;top:913.93px;width:67.4px;height:14.47px">3188</div><div class="c bn" style="left:571.8px;top:913.93px;width:66.8px;height:14.47px">3302</div><div class="c bn" style="left:638.6px;top:913.93px;width:67.4px;height:14.47px">3632</div><div class="c bb2" style="left:156px;top:928.4px;width:43px;height:14.47px">4500</div><div class="c bn" style="left:199px;top:928.4px;width:52.4px;height:14.47px">5</div><div class="c bn" style="left:251.4px;top:928.4px;width:51.8px;height:14.47px">5</div><div class="c bn" style="left:303.2px;top:928.4px;width:68.4px;height:14.47px">1400</div><div class="c bn" style="left:371.6px;top:928.4px;width:65.8px;height:14.47px">1600</div><div class="c bn" style="left:437.4px;top:928.4px;width:67px;height:14.47px">1875</div><div class="c bn" style="left:504.4px;top:928.4px;width:67.4px;height:14.47px">3222</div><div class="c bn" style="left:571.8px;top:928.4px;width:66.8px;height:14.47px">3336</div><div class="c bn" style="left:638.6px;top:928.4px;width:67.4px;height:14.47px">3666</div><div class="c bb2" style="left:156px;top:942.87px;width:43px;height:14.47px">4750</div><div class="c bn" style="left:199px;top:942.87px;width:52.4px;height:14.47px">5</div><div class="c bn" style="left:251.4px;top:942.87px;width:51.8px;height:14.47px">5</div><div class="c bn" style="left:303.2px;top:942.87px;width:68.4px;height:14.47px">1350</div><div class="c bn" style="left:371.6px;top:942.87px;width:65.8px;height:14.47px">1525</div><div class="c bn" style="left:437.4px;top:942.87px;width:67px;height:14.47px">1825</div><div class="c bn" style="left:504.4px;top:942.87px;width:67.4px;height:14.47px">3250</div><div class="c bn" style="left:571.8px;top:942.87px;width:66.8px;height:14.47px">3364</div><div class="c bn" style="left:638.6px;top:942.87px;width:67.4px;height:14.47px">3694</div><div class="c bb2" style="left:156px;top:957.34px;width:43px;height:14.47px">5000</div><div class="c bn" style="left:199px;top:957.34px;width:52.4px;height:14.47px">5</div><div class="c bn" style="left:251.4px;top:957.34px;width:51.8px;height:14.47px">5</div><div class="c bn" style="left:303.2px;top:957.34px;width:68.4px;height:14.47px">1300</div><div class="c bn" style="left:371.6px;top:957.34px;width:65.8px;height:14.47px">1400</div><div class="c bn" style="left:437.4px;top:957.34px;width:67px;height:14.47px">1800</div><div class="c bn" style="left:504.4px;top:957.34px;width:67.4px;height:14.47px">3264</div><div class="c bn" style="left:571.8px;top:957.34px;width:66.8px;height:14.47px">3378</div><div class="c bn" style="left:638.6px;top:957.34px;width:67.4px;height:14.47px">3708</div><div class="c bb2" style="left:156px;top:971.81px;width:43px;height:14.47px">5500</div><div class="c bn" style="left:199px;top:971.81px;width:52.4px;height:14.47px">5</div><div class="c bn" style="left:251.4px;top:971.81px;width:51.8px;height:14.47px">5</div><div class="c bn" style="left:303.2px;top:971.81px;width:68.4px;height:14.47px">975</div><div class="c bn" style="left:371.6px;top:971.81px;width:65.8px;height:14.47px">1025</div><div class="c bn" style="left:437.4px;top:971.81px;width:67px;height:14.47px">1700</div><div class="c bn" style="left:504.4px;top:971.81px;width:67.4px;height:14.47px">3349</div><div class="c bn" style="left:571.8px;top:971.81px;width:66.8px;height:14.47px">3463</div><div class="c bn" style="left:638.6px;top:971.81px;width:67.4px;height:14.47px">3793</div><div class="c bb2" style="left:156px;top:986.28px;width:43px;height:14.47px">6000</div><div class="c bn" style="left:199px;top:986.28px;width:52.4px;height:14.47px">5</div><div class="c bn" style="left:251.4px;top:986.28px;width:51.8px;height:14.47px">5</div><div class="c bn" style="left:303.2px;top:986.28px;width:68.4px;height:14.47px">650</div><div class="c bn" style="left:371.6px;top:986.28px;width:65.8px;height:14.47px">700</div><div class="c bn" style="left:437.4px;top:986.28px;width:67px;height:14.47px">1575</div><div class="c bn" style="left:504.4px;top:986.28px;width:67.4px;height:14.47px">3383</div><div class="c bn" style="left:571.8px;top:986.28px;width:66.8px;height:14.47px">3497</div><div class="c bn" style="left:638.6px;top:986.28px;width:67.4px;height:14.47px">3827</div><div class="c bm2" style="left:112.5px;top:783.7px;width:43.5px;height:86.82px">STD</div><div class="c bm2" style="left:112.5px;top:870.52px;width:43.5px;height:43.41px">FFL</div><div class="c bm2" style="left:112.5px;top:913.93px;width:43.5px;height:86.82px">FFT</div><div class="c bm2" style="left:54.5px;top:866px;width:58px;height:14px">B15T-7</div><div class="c bm2" style="left:54.5px;top:885.2px;width:58px;height:14px">B18T-7</div><div class="c bm2" style="left:54.5px;top:904px;width:58px;height:14px">B20T-7</div></body></html>
